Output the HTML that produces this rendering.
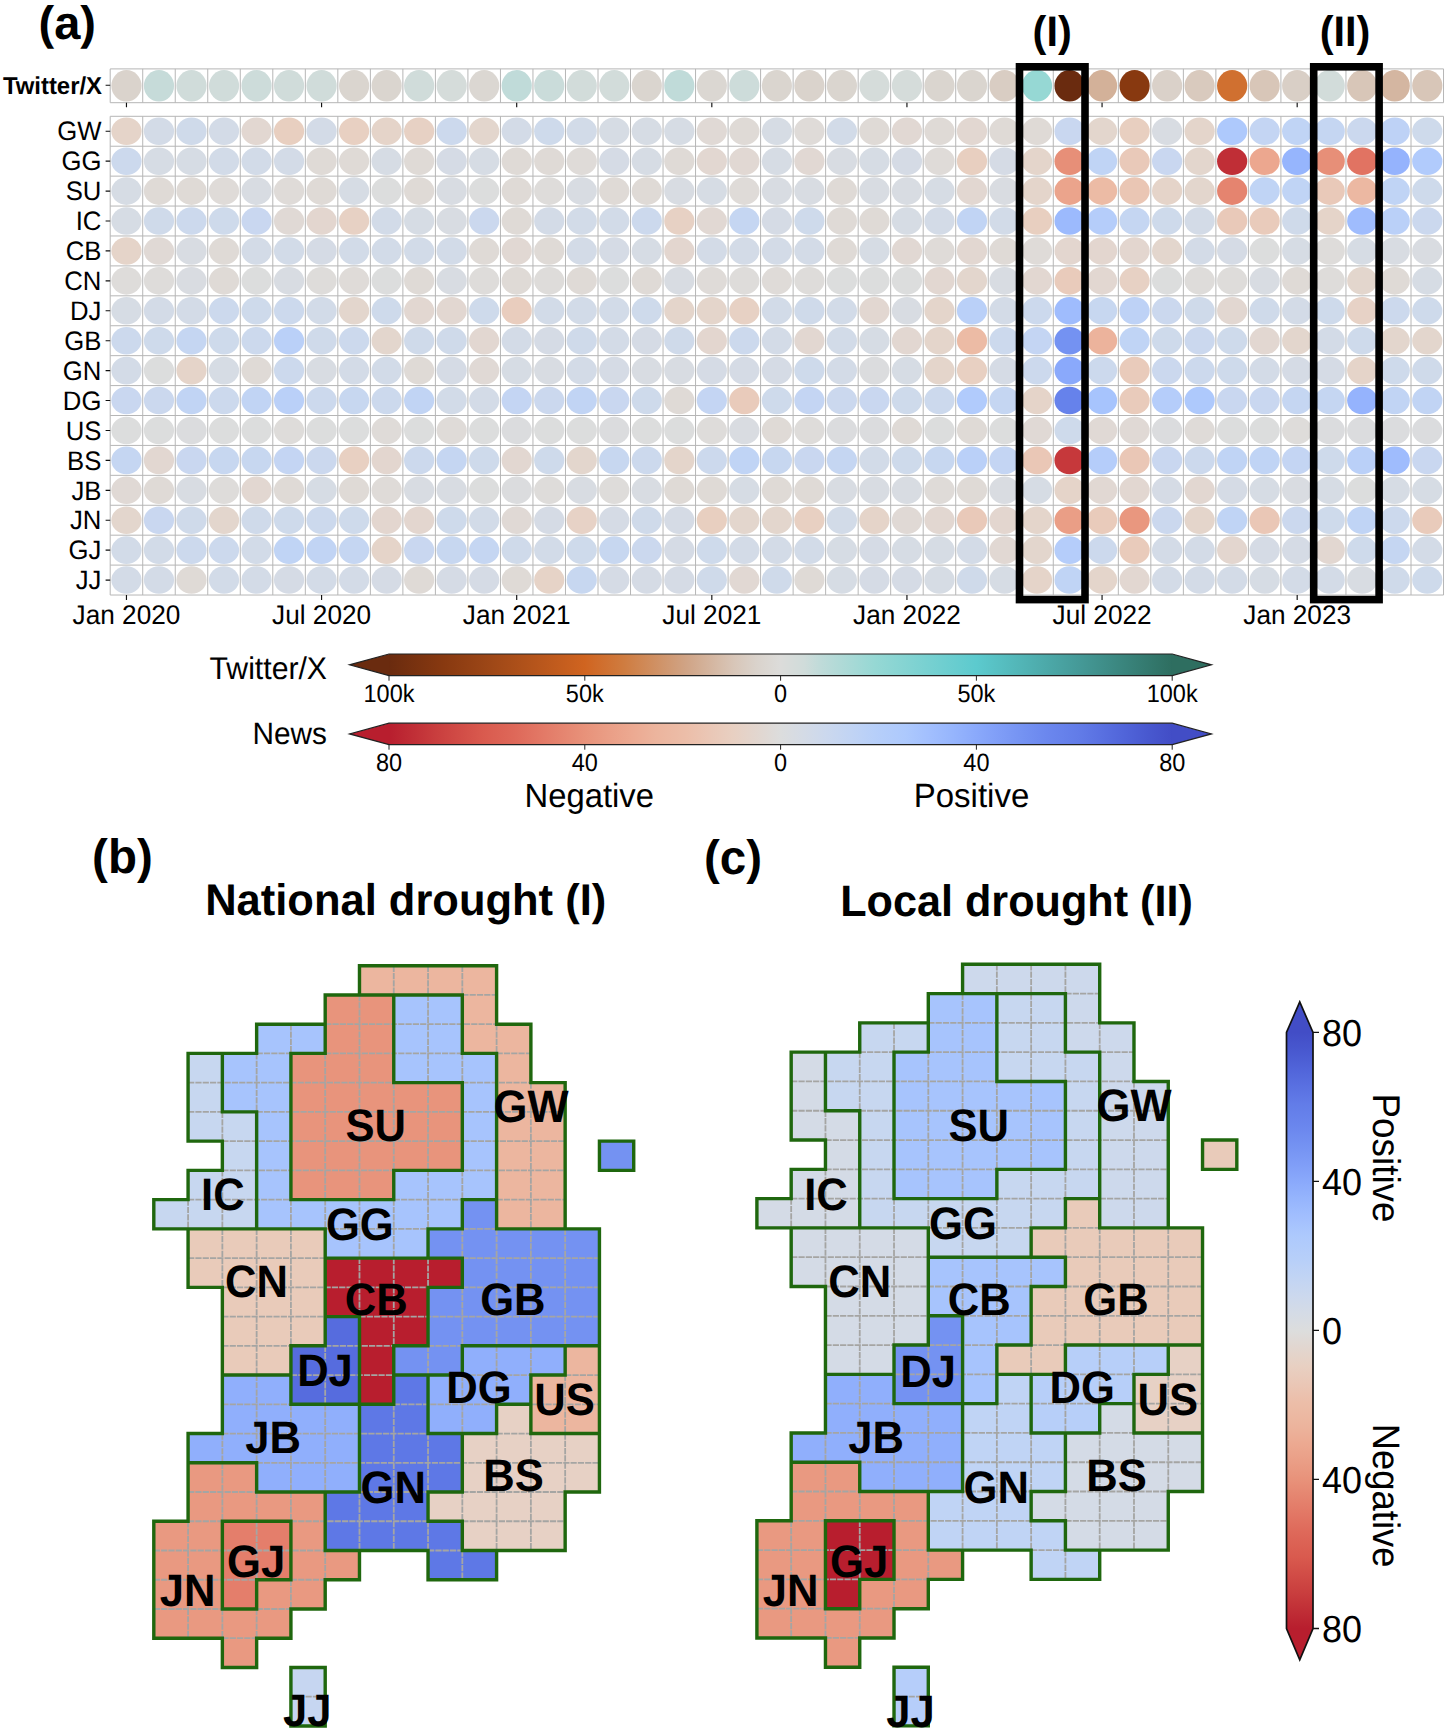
<!DOCTYPE html>
<html lang="en">
<head>
<meta charset="utf-8">
<title>Drought sentiment on Twitter/X and News</title>
<style>
html,body{margin:0;padding:0;background:#fff;}
body{width:1450px;height:1734px;overflow:hidden;}
svg{display:block;font-family:"Liberation Sans",sans-serif;fill:#000;}
</style>
</head>
<body>
<svg width="1450" height="1734" viewBox="0 0 1450 1734" text-rendering="geometricPrecision">
<rect width="1450" height="1734" fill="#fff"/>
<g id="panel-a">
<path d="M110.2 68.9V102.7M110.2 116.3V595.02M142.72 68.9V102.7M142.72 116.3V595.02M175.24 68.9V102.7M175.24 116.3V595.02M207.76 68.9V102.7M207.76 116.3V595.02M240.28 68.9V102.7M240.28 116.3V595.02M272.8 68.9V102.7M272.8 116.3V595.02M305.32 68.9V102.7M305.32 116.3V595.02M337.84 68.9V102.7M337.84 116.3V595.02M370.36 68.9V102.7M370.36 116.3V595.02M402.88 68.9V102.7M402.88 116.3V595.02M435.4 68.9V102.7M435.4 116.3V595.02M467.92 68.9V102.7M467.92 116.3V595.02M500.44 68.9V102.7M500.44 116.3V595.02M532.96 68.9V102.7M532.96 116.3V595.02M565.48 68.9V102.7M565.48 116.3V595.02M598 68.9V102.7M598 116.3V595.02M630.52 68.9V102.7M630.52 116.3V595.02M663.04 68.9V102.7M663.04 116.3V595.02M695.56 68.9V102.7M695.56 116.3V595.02M728.08 68.9V102.7M728.08 116.3V595.02M760.6 68.9V102.7M760.6 116.3V595.02M793.12 68.9V102.7M793.12 116.3V595.02M825.64 68.9V102.7M825.64 116.3V595.02M858.16 68.9V102.7M858.16 116.3V595.02M890.68 68.9V102.7M890.68 116.3V595.02M923.2 68.9V102.7M923.2 116.3V595.02M955.72 68.9V102.7M955.72 116.3V595.02M988.24 68.9V102.7M988.24 116.3V595.02M1020.76 68.9V102.7M1020.76 116.3V595.02M1053.28 68.9V102.7M1053.28 116.3V595.02M1085.8 68.9V102.7M1085.8 116.3V595.02M1118.32 68.9V102.7M1118.32 116.3V595.02M1150.84 68.9V102.7M1150.84 116.3V595.02M1183.36 68.9V102.7M1183.36 116.3V595.02M1215.88 68.9V102.7M1215.88 116.3V595.02M1248.4 68.9V102.7M1248.4 116.3V595.02M1280.92 68.9V102.7M1280.92 116.3V595.02M1313.44 68.9V102.7M1313.44 116.3V595.02M1345.96 68.9V102.7M1345.96 116.3V595.02M1378.48 68.9V102.7M1378.48 116.3V595.02M1411 68.9V102.7M1411 116.3V595.02M1443.52 68.9V102.7M1443.52 116.3V595.02M110.2 68.9H1443.52M110.2 102.7H1443.52M110.2 116.3H1443.52M110.2 146.22H1443.52M110.2 176.14H1443.52M110.2 206.06H1443.52M110.2 235.98H1443.52M110.2 265.9H1443.52M110.2 295.82H1443.52M110.2 325.74H1443.52M110.2 355.66H1443.52M110.2 385.58H1443.52M110.2 415.5H1443.52M110.2 445.42H1443.52M110.2 475.34H1443.52M110.2 505.26H1443.52M110.2 535.18H1443.52M110.2 565.1H1443.52M110.2 595.02H1443.52" fill="none" stroke="#b6b6b6" stroke-width="1"/>
<g id="twitter-row">
<ellipse cx="126.46" cy="85.8" rx="15.1" ry="15.8" fill="#dad3cc"/>
<ellipse cx="158.98" cy="85.8" rx="15.1" ry="15.8" fill="#c6dbd9"/>
<ellipse cx="191.5" cy="85.8" rx="15.1" ry="15.8" fill="#d0dcda"/>
<ellipse cx="224.02" cy="85.8" rx="15.1" ry="15.8" fill="#d0dcda"/>
<ellipse cx="256.54" cy="85.8" rx="15.1" ry="15.8" fill="#cddcda"/>
<ellipse cx="289.06" cy="85.8" rx="15.1" ry="15.8" fill="#d0dcda"/>
<ellipse cx="321.58" cy="85.8" rx="15.1" ry="15.8" fill="#d0dcda"/>
<ellipse cx="354.1" cy="85.8" rx="15.1" ry="15.8" fill="#dad5cf"/>
<ellipse cx="386.62" cy="85.8" rx="15.1" ry="15.8" fill="#dad5cf"/>
<ellipse cx="419.14" cy="85.8" rx="15.1" ry="15.8" fill="#d0dcda"/>
<ellipse cx="451.66" cy="85.8" rx="15.1" ry="15.8" fill="#d5dcda"/>
<ellipse cx="484.18" cy="85.8" rx="15.1" ry="15.8" fill="#dbd7d2"/>
<ellipse cx="516.7" cy="85.8" rx="15.1" ry="15.8" fill="#c0dbd9"/>
<ellipse cx="549.22" cy="85.8" rx="15.1" ry="15.8" fill="#cadcda"/>
<ellipse cx="581.74" cy="85.8" rx="15.1" ry="15.8" fill="#d2dcda"/>
<ellipse cx="614.26" cy="85.8" rx="15.1" ry="15.8" fill="#d2dcda"/>
<ellipse cx="646.78" cy="85.8" rx="15.1" ry="15.8" fill="#dad5cf"/>
<ellipse cx="679.3" cy="85.8" rx="15.1" ry="15.8" fill="#c0dbd9"/>
<ellipse cx="711.82" cy="85.8" rx="15.1" ry="15.8" fill="#dbd7d2"/>
<ellipse cx="744.34" cy="85.8" rx="15.1" ry="15.8" fill="#cddcda"/>
<ellipse cx="776.86" cy="85.8" rx="15.1" ry="15.8" fill="#dad5cf"/>
<ellipse cx="809.38" cy="85.8" rx="15.1" ry="15.8" fill="#dad3cc"/>
<ellipse cx="841.9" cy="85.8" rx="15.1" ry="15.8" fill="#dad5cf"/>
<ellipse cx="874.42" cy="85.8" rx="15.1" ry="15.8" fill="#d5dcda"/>
<ellipse cx="906.94" cy="85.8" rx="15.1" ry="15.8" fill="#d5dcda"/>
<ellipse cx="939.46" cy="85.8" rx="15.1" ry="15.8" fill="#dad5cf"/>
<ellipse cx="971.98" cy="85.8" rx="15.1" ry="15.8" fill="#dad5cf"/>
<ellipse cx="1004.5" cy="85.8" rx="15.1" ry="15.8" fill="#d9cdc3"/>
<ellipse cx="1037.02" cy="85.8" rx="15.1" ry="15.8" fill="#96d8d4"/>
<ellipse cx="1069.54" cy="85.8" rx="15.1" ry="15.8" fill="#6a2b0f"/>
<ellipse cx="1102.06" cy="85.8" rx="15.1" ry="15.8" fill="#d3b199"/>
<ellipse cx="1134.58" cy="85.8" rx="15.1" ry="15.8" fill="#883910"/>
<ellipse cx="1167.1" cy="85.8" rx="15.1" ry="15.8" fill="#dad1c9"/>
<ellipse cx="1199.62" cy="85.8" rx="15.1" ry="15.8" fill="#d9cabe"/>
<ellipse cx="1232.14" cy="85.8" rx="15.1" ry="15.8" fill="#d07030"/>
<ellipse cx="1264.66" cy="85.8" rx="15.1" ry="15.8" fill="#d8c6b8"/>
<ellipse cx="1297.18" cy="85.8" rx="15.1" ry="15.8" fill="#d9cfc6"/>
<ellipse cx="1329.7" cy="85.8" rx="15.1" ry="15.8" fill="#d2dcda"/>
<ellipse cx="1362.22" cy="85.8" rx="15.1" ry="15.8" fill="#d8c6b8"/>
<ellipse cx="1394.74" cy="85.8" rx="15.1" ry="15.8" fill="#d4b6a1"/>
<ellipse cx="1427.26" cy="85.8" rx="15.1" ry="15.8" fill="#d8c6b8"/>
</g>
<g id="news-GW">
<ellipse cx="126.46" cy="131.26" rx="15.1" ry="13.8" fill="#e5d4c9"/>
<ellipse cx="158.98" cy="131.26" rx="15.1" ry="13.8" fill="#d3dbe7"/>
<ellipse cx="191.5" cy="131.26" rx="15.1" ry="13.8" fill="#cfdaea"/>
<ellipse cx="224.02" cy="131.26" rx="15.1" ry="13.8" fill="#d3dbe7"/>
<ellipse cx="256.54" cy="131.26" rx="15.1" ry="13.8" fill="#e2d7d1"/>
<ellipse cx="289.06" cy="131.26" rx="15.1" ry="13.8" fill="#e8cfc0"/>
<ellipse cx="321.58" cy="131.26" rx="15.1" ry="13.8" fill="#d3dbe7"/>
<ellipse cx="354.1" cy="131.26" rx="15.1" ry="13.8" fill="#e8d0c2"/>
<ellipse cx="386.62" cy="131.26" rx="15.1" ry="13.8" fill="#e5d4c9"/>
<ellipse cx="419.14" cy="131.26" rx="15.1" ry="13.8" fill="#e7d1c4"/>
<ellipse cx="451.66" cy="131.26" rx="15.1" ry="13.8" fill="#ccd9ed"/>
<ellipse cx="484.18" cy="131.26" rx="15.1" ry="13.8" fill="#e3d6cd"/>
<ellipse cx="516.7" cy="131.26" rx="15.1" ry="13.8" fill="#d3dbe7"/>
<ellipse cx="549.22" cy="131.26" rx="15.1" ry="13.8" fill="#cedaeb"/>
<ellipse cx="581.74" cy="131.26" rx="15.1" ry="13.8" fill="#d2dbe8"/>
<ellipse cx="614.26" cy="131.26" rx="15.1" ry="13.8" fill="#d6dce4"/>
<ellipse cx="646.78" cy="131.26" rx="15.1" ry="13.8" fill="#d6dce4"/>
<ellipse cx="679.3" cy="131.26" rx="15.1" ry="13.8" fill="#d6dce4"/>
<ellipse cx="711.82" cy="131.26" rx="15.1" ry="13.8" fill="#e0d9d5"/>
<ellipse cx="744.34" cy="131.26" rx="15.1" ry="13.8" fill="#dfdad6"/>
<ellipse cx="776.86" cy="131.26" rx="15.1" ry="13.8" fill="#d6dce4"/>
<ellipse cx="809.38" cy="131.26" rx="15.1" ry="13.8" fill="#dfdbd8"/>
<ellipse cx="841.9" cy="131.26" rx="15.1" ry="13.8" fill="#d2dbe8"/>
<ellipse cx="874.42" cy="131.26" rx="15.1" ry="13.8" fill="#dfdad6"/>
<ellipse cx="906.94" cy="131.26" rx="15.1" ry="13.8" fill="#e1d8d3"/>
<ellipse cx="939.46" cy="131.26" rx="15.1" ry="13.8" fill="#dfdad6"/>
<ellipse cx="971.98" cy="131.26" rx="15.1" ry="13.8" fill="#e2d7d1"/>
<ellipse cx="1004.5" cy="131.26" rx="15.1" ry="13.8" fill="#dfdad6"/>
<ellipse cx="1037.02" cy="131.26" rx="15.1" ry="13.8" fill="#dfdad6"/>
<ellipse cx="1069.54" cy="131.26" rx="15.1" ry="13.8" fill="#c9d7f0"/>
<ellipse cx="1102.06" cy="131.26" rx="15.1" ry="13.8" fill="#e3d6cd"/>
<ellipse cx="1134.58" cy="131.26" rx="15.1" ry="13.8" fill="#e8cfc0"/>
<ellipse cx="1167.1" cy="131.26" rx="15.1" ry="13.8" fill="#d8dce2"/>
<ellipse cx="1199.62" cy="131.26" rx="15.1" ry="13.8" fill="#e4d5cb"/>
<ellipse cx="1232.14" cy="131.26" rx="15.1" ry="13.8" fill="#aec9fc"/>
<ellipse cx="1264.66" cy="131.26" rx="15.1" ry="13.8" fill="#c4d5f3"/>
<ellipse cx="1297.18" cy="131.26" rx="15.1" ry="13.8" fill="#c0d4f5"/>
<ellipse cx="1329.7" cy="131.26" rx="15.1" ry="13.8" fill="#c5d6f2"/>
<ellipse cx="1362.22" cy="131.26" rx="15.1" ry="13.8" fill="#cbd8ee"/>
<ellipse cx="1394.74" cy="131.26" rx="15.1" ry="13.8" fill="#bed2f6"/>
<ellipse cx="1427.26" cy="131.26" rx="15.1" ry="13.8" fill="#cedaeb"/>
</g>
<g id="news-GG">
<ellipse cx="126.46" cy="161.18" rx="15.1" ry="13.8" fill="#ccd9ed"/>
<ellipse cx="158.98" cy="161.18" rx="15.1" ry="13.8" fill="#d6dce4"/>
<ellipse cx="191.5" cy="161.18" rx="15.1" ry="13.8" fill="#d6dce4"/>
<ellipse cx="224.02" cy="161.18" rx="15.1" ry="13.8" fill="#d2dbe8"/>
<ellipse cx="256.54" cy="161.18" rx="15.1" ry="13.8" fill="#d2dbe8"/>
<ellipse cx="289.06" cy="161.18" rx="15.1" ry="13.8" fill="#d3dbe7"/>
<ellipse cx="321.58" cy="161.18" rx="15.1" ry="13.8" fill="#dfdad6"/>
<ellipse cx="354.1" cy="161.18" rx="15.1" ry="13.8" fill="#dfdad6"/>
<ellipse cx="386.62" cy="161.18" rx="15.1" ry="13.8" fill="#d6dce4"/>
<ellipse cx="419.14" cy="161.18" rx="15.1" ry="13.8" fill="#dfdad6"/>
<ellipse cx="451.66" cy="161.18" rx="15.1" ry="13.8" fill="#d5dbe5"/>
<ellipse cx="484.18" cy="161.18" rx="15.1" ry="13.8" fill="#d6dce4"/>
<ellipse cx="516.7" cy="161.18" rx="15.1" ry="13.8" fill="#dfdad6"/>
<ellipse cx="549.22" cy="161.18" rx="15.1" ry="13.8" fill="#dfdad6"/>
<ellipse cx="581.74" cy="161.18" rx="15.1" ry="13.8" fill="#dfdbd8"/>
<ellipse cx="614.26" cy="161.18" rx="15.1" ry="13.8" fill="#d5dbe5"/>
<ellipse cx="646.78" cy="161.18" rx="15.1" ry="13.8" fill="#d6dce4"/>
<ellipse cx="679.3" cy="161.18" rx="15.1" ry="13.8" fill="#dfdad6"/>
<ellipse cx="711.82" cy="161.18" rx="15.1" ry="13.8" fill="#e2d7d1"/>
<ellipse cx="744.34" cy="161.18" rx="15.1" ry="13.8" fill="#e1d8d3"/>
<ellipse cx="776.86" cy="161.18" rx="15.1" ry="13.8" fill="#d6dce4"/>
<ellipse cx="809.38" cy="161.18" rx="15.1" ry="13.8" fill="#e1d8d3"/>
<ellipse cx="841.9" cy="161.18" rx="15.1" ry="13.8" fill="#d8dce2"/>
<ellipse cx="874.42" cy="161.18" rx="15.1" ry="13.8" fill="#d6dce4"/>
<ellipse cx="906.94" cy="161.18" rx="15.1" ry="13.8" fill="#d5dbe5"/>
<ellipse cx="939.46" cy="161.18" rx="15.1" ry="13.8" fill="#dfdbd8"/>
<ellipse cx="971.98" cy="161.18" rx="15.1" ry="13.8" fill="#e8cfc0"/>
<ellipse cx="1004.5" cy="161.18" rx="15.1" ry="13.8" fill="#d5dbe5"/>
<ellipse cx="1037.02" cy="161.18" rx="15.1" ry="13.8" fill="#e4d5cb"/>
<ellipse cx="1069.54" cy="161.18" rx="15.1" ry="13.8" fill="#e78f78"/>
<ellipse cx="1102.06" cy="161.18" rx="15.1" ry="13.8" fill="#c0d4f5"/>
<ellipse cx="1134.58" cy="161.18" rx="15.1" ry="13.8" fill="#e9c9b9"/>
<ellipse cx="1167.1" cy="161.18" rx="15.1" ry="13.8" fill="#c9d7f0"/>
<ellipse cx="1199.62" cy="161.18" rx="15.1" ry="13.8" fill="#e3d6cd"/>
<ellipse cx="1232.14" cy="161.18" rx="15.1" ry="13.8" fill="#c02e36"/>
<ellipse cx="1264.66" cy="161.18" rx="15.1" ry="13.8" fill="#eca78f"/>
<ellipse cx="1297.18" cy="161.18" rx="15.1" ry="13.8" fill="#96b5fd"/>
<ellipse cx="1329.7" cy="161.18" rx="15.1" ry="13.8" fill="#e78f78"/>
<ellipse cx="1362.22" cy="161.18" rx="15.1" ry="13.8" fill="#e17362"/>
<ellipse cx="1394.74" cy="161.18" rx="15.1" ry="13.8" fill="#95b3fd"/>
<ellipse cx="1427.26" cy="161.18" rx="15.1" ry="13.8" fill="#b1cbfc"/>
</g>
<g id="news-SU">
<ellipse cx="126.46" cy="191.1" rx="15.1" ry="13.8" fill="#d6dce4"/>
<ellipse cx="158.98" cy="191.1" rx="15.1" ry="13.8" fill="#dfdad6"/>
<ellipse cx="191.5" cy="191.1" rx="15.1" ry="13.8" fill="#dfdad6"/>
<ellipse cx="224.02" cy="191.1" rx="15.1" ry="13.8" fill="#dfdbd8"/>
<ellipse cx="256.54" cy="191.1" rx="15.1" ry="13.8" fill="#d8dce2"/>
<ellipse cx="289.06" cy="191.1" rx="15.1" ry="13.8" fill="#dfdbd8"/>
<ellipse cx="321.58" cy="191.1" rx="15.1" ry="13.8" fill="#dfdad6"/>
<ellipse cx="354.1" cy="191.1" rx="15.1" ry="13.8" fill="#d6dce4"/>
<ellipse cx="386.62" cy="191.1" rx="15.1" ry="13.8" fill="#dcdddd"/>
<ellipse cx="419.14" cy="191.1" rx="15.1" ry="13.8" fill="#dfdad6"/>
<ellipse cx="451.66" cy="191.1" rx="15.1" ry="13.8" fill="#d8dce2"/>
<ellipse cx="484.18" cy="191.1" rx="15.1" ry="13.8" fill="#dcdddd"/>
<ellipse cx="516.7" cy="191.1" rx="15.1" ry="13.8" fill="#dfdad6"/>
<ellipse cx="549.22" cy="191.1" rx="15.1" ry="13.8" fill="#dedcda"/>
<ellipse cx="581.74" cy="191.1" rx="15.1" ry="13.8" fill="#d8dce2"/>
<ellipse cx="614.26" cy="191.1" rx="15.1" ry="13.8" fill="#dfdad6"/>
<ellipse cx="646.78" cy="191.1" rx="15.1" ry="13.8" fill="#dfdad6"/>
<ellipse cx="679.3" cy="191.1" rx="15.1" ry="13.8" fill="#d8dce2"/>
<ellipse cx="711.82" cy="191.1" rx="15.1" ry="13.8" fill="#d6dce4"/>
<ellipse cx="744.34" cy="191.1" rx="15.1" ry="13.8" fill="#dfdbd8"/>
<ellipse cx="776.86" cy="191.1" rx="15.1" ry="13.8" fill="#d8dce2"/>
<ellipse cx="809.38" cy="191.1" rx="15.1" ry="13.8" fill="#d8dce2"/>
<ellipse cx="841.9" cy="191.1" rx="15.1" ry="13.8" fill="#dfdad6"/>
<ellipse cx="874.42" cy="191.1" rx="15.1" ry="13.8" fill="#d8dce2"/>
<ellipse cx="906.94" cy="191.1" rx="15.1" ry="13.8" fill="#d8dce2"/>
<ellipse cx="939.46" cy="191.1" rx="15.1" ry="13.8" fill="#d6dce4"/>
<ellipse cx="971.98" cy="191.1" rx="15.1" ry="13.8" fill="#e2d7d1"/>
<ellipse cx="1004.5" cy="191.1" rx="15.1" ry="13.8" fill="#d9dce1"/>
<ellipse cx="1037.02" cy="191.1" rx="15.1" ry="13.8" fill="#e4d5cb"/>
<ellipse cx="1069.54" cy="191.1" rx="15.1" ry="13.8" fill="#eba48c"/>
<ellipse cx="1102.06" cy="191.1" rx="15.1" ry="13.8" fill="#ecbba5"/>
<ellipse cx="1134.58" cy="191.1" rx="15.1" ry="13.8" fill="#eac6b4"/>
<ellipse cx="1167.1" cy="191.1" rx="15.1" ry="13.8" fill="#e5d4c9"/>
<ellipse cx="1199.62" cy="191.1" rx="15.1" ry="13.8" fill="#e3d6cd"/>
<ellipse cx="1232.14" cy="191.1" rx="15.1" ry="13.8" fill="#e5846f"/>
<ellipse cx="1264.66" cy="191.1" rx="15.1" ry="13.8" fill="#c0d4f5"/>
<ellipse cx="1297.18" cy="191.1" rx="15.1" ry="13.8" fill="#c0d4f5"/>
<ellipse cx="1329.7" cy="191.1" rx="15.1" ry="13.8" fill="#e9c9b9"/>
<ellipse cx="1362.22" cy="191.1" rx="15.1" ry="13.8" fill="#ecb8a2"/>
<ellipse cx="1394.74" cy="191.1" rx="15.1" ry="13.8" fill="#c0d4f5"/>
<ellipse cx="1427.26" cy="191.1" rx="15.1" ry="13.8" fill="#cedaeb"/>
</g>
<g id="news-IC">
<ellipse cx="126.46" cy="221.02" rx="15.1" ry="13.8" fill="#d6dce4"/>
<ellipse cx="158.98" cy="221.02" rx="15.1" ry="13.8" fill="#cfdaea"/>
<ellipse cx="191.5" cy="221.02" rx="15.1" ry="13.8" fill="#ccd9ed"/>
<ellipse cx="224.02" cy="221.02" rx="15.1" ry="13.8" fill="#cedaeb"/>
<ellipse cx="256.54" cy="221.02" rx="15.1" ry="13.8" fill="#c9d7f0"/>
<ellipse cx="289.06" cy="221.02" rx="15.1" ry="13.8" fill="#e0d9d5"/>
<ellipse cx="321.58" cy="221.02" rx="15.1" ry="13.8" fill="#e3d6cf"/>
<ellipse cx="354.1" cy="221.02" rx="15.1" ry="13.8" fill="#e7d1c4"/>
<ellipse cx="386.62" cy="221.02" rx="15.1" ry="13.8" fill="#d2dbe8"/>
<ellipse cx="419.14" cy="221.02" rx="15.1" ry="13.8" fill="#d6dce4"/>
<ellipse cx="451.66" cy="221.02" rx="15.1" ry="13.8" fill="#d8dce2"/>
<ellipse cx="484.18" cy="221.02" rx="15.1" ry="13.8" fill="#cbd8ee"/>
<ellipse cx="516.7" cy="221.02" rx="15.1" ry="13.8" fill="#dfdad6"/>
<ellipse cx="549.22" cy="221.02" rx="15.1" ry="13.8" fill="#d3dbe7"/>
<ellipse cx="581.74" cy="221.02" rx="15.1" ry="13.8" fill="#d2dbe8"/>
<ellipse cx="614.26" cy="221.02" rx="15.1" ry="13.8" fill="#d2dbe8"/>
<ellipse cx="646.78" cy="221.02" rx="15.1" ry="13.8" fill="#ccd9ed"/>
<ellipse cx="679.3" cy="221.02" rx="15.1" ry="13.8" fill="#e7d1c4"/>
<ellipse cx="711.82" cy="221.02" rx="15.1" ry="13.8" fill="#e1d8d3"/>
<ellipse cx="744.34" cy="221.02" rx="15.1" ry="13.8" fill="#c5d6f2"/>
<ellipse cx="776.86" cy="221.02" rx="15.1" ry="13.8" fill="#d5dbe5"/>
<ellipse cx="809.38" cy="221.02" rx="15.1" ry="13.8" fill="#cedaeb"/>
<ellipse cx="841.9" cy="221.02" rx="15.1" ry="13.8" fill="#dfdad6"/>
<ellipse cx="874.42" cy="221.02" rx="15.1" ry="13.8" fill="#dfdad6"/>
<ellipse cx="906.94" cy="221.02" rx="15.1" ry="13.8" fill="#d6dce4"/>
<ellipse cx="939.46" cy="221.02" rx="15.1" ry="13.8" fill="#d3dbe7"/>
<ellipse cx="971.98" cy="221.02" rx="15.1" ry="13.8" fill="#c1d4f4"/>
<ellipse cx="1004.5" cy="221.02" rx="15.1" ry="13.8" fill="#d2dbe8"/>
<ellipse cx="1037.02" cy="221.02" rx="15.1" ry="13.8" fill="#e8cfc0"/>
<ellipse cx="1069.54" cy="221.02" rx="15.1" ry="13.8" fill="#9cbafd"/>
<ellipse cx="1102.06" cy="221.02" rx="15.1" ry="13.8" fill="#b5cdfa"/>
<ellipse cx="1134.58" cy="221.02" rx="15.1" ry="13.8" fill="#c5d6f2"/>
<ellipse cx="1167.1" cy="221.02" rx="15.1" ry="13.8" fill="#cedaeb"/>
<ellipse cx="1199.62" cy="221.02" rx="15.1" ry="13.8" fill="#d3dbe7"/>
<ellipse cx="1232.14" cy="221.02" rx="15.1" ry="13.8" fill="#e9c9b9"/>
<ellipse cx="1264.66" cy="221.02" rx="15.1" ry="13.8" fill="#e9cbbb"/>
<ellipse cx="1297.18" cy="221.02" rx="15.1" ry="13.8" fill="#cfdaea"/>
<ellipse cx="1329.7" cy="221.02" rx="15.1" ry="13.8" fill="#e5d4c9"/>
<ellipse cx="1362.22" cy="221.02" rx="15.1" ry="13.8" fill="#9fbcfd"/>
<ellipse cx="1394.74" cy="221.02" rx="15.1" ry="13.8" fill="#bad0f8"/>
<ellipse cx="1427.26" cy="221.02" rx="15.1" ry="13.8" fill="#cbd8ee"/>
</g>
<g id="news-CB">
<ellipse cx="126.46" cy="250.94" rx="15.1" ry="13.8" fill="#e5d4c9"/>
<ellipse cx="158.98" cy="250.94" rx="15.1" ry="13.8" fill="#e0d9d5"/>
<ellipse cx="191.5" cy="250.94" rx="15.1" ry="13.8" fill="#d8dce2"/>
<ellipse cx="224.02" cy="250.94" rx="15.1" ry="13.8" fill="#dfdad6"/>
<ellipse cx="256.54" cy="250.94" rx="15.1" ry="13.8" fill="#d3dbe7"/>
<ellipse cx="289.06" cy="250.94" rx="15.1" ry="13.8" fill="#d2dbe8"/>
<ellipse cx="321.58" cy="250.94" rx="15.1" ry="13.8" fill="#d5dbe5"/>
<ellipse cx="354.1" cy="250.94" rx="15.1" ry="13.8" fill="#d2dbe8"/>
<ellipse cx="386.62" cy="250.94" rx="15.1" ry="13.8" fill="#d2dbe8"/>
<ellipse cx="419.14" cy="250.94" rx="15.1" ry="13.8" fill="#d2dbe8"/>
<ellipse cx="451.66" cy="250.94" rx="15.1" ry="13.8" fill="#d2dbe8"/>
<ellipse cx="484.18" cy="250.94" rx="15.1" ry="13.8" fill="#dfdad6"/>
<ellipse cx="516.7" cy="250.94" rx="15.1" ry="13.8" fill="#e1d8d3"/>
<ellipse cx="549.22" cy="250.94" rx="15.1" ry="13.8" fill="#dfdad6"/>
<ellipse cx="581.74" cy="250.94" rx="15.1" ry="13.8" fill="#d3dbe7"/>
<ellipse cx="614.26" cy="250.94" rx="15.1" ry="13.8" fill="#d5dbe5"/>
<ellipse cx="646.78" cy="250.94" rx="15.1" ry="13.8" fill="#d6dce4"/>
<ellipse cx="679.3" cy="250.94" rx="15.1" ry="13.8" fill="#e3d6cf"/>
<ellipse cx="711.82" cy="250.94" rx="15.1" ry="13.8" fill="#d3dbe7"/>
<ellipse cx="744.34" cy="250.94" rx="15.1" ry="13.8" fill="#d3dbe7"/>
<ellipse cx="776.86" cy="250.94" rx="15.1" ry="13.8" fill="#d3dbe7"/>
<ellipse cx="809.38" cy="250.94" rx="15.1" ry="13.8" fill="#d3dbe7"/>
<ellipse cx="841.9" cy="250.94" rx="15.1" ry="13.8" fill="#dfdad6"/>
<ellipse cx="874.42" cy="250.94" rx="15.1" ry="13.8" fill="#d6dce4"/>
<ellipse cx="906.94" cy="250.94" rx="15.1" ry="13.8" fill="#e1d8d3"/>
<ellipse cx="939.46" cy="250.94" rx="15.1" ry="13.8" fill="#dfdbd8"/>
<ellipse cx="971.98" cy="250.94" rx="15.1" ry="13.8" fill="#e2d7d1"/>
<ellipse cx="1004.5" cy="250.94" rx="15.1" ry="13.8" fill="#dfdad6"/>
<ellipse cx="1037.02" cy="250.94" rx="15.1" ry="13.8" fill="#dfdbd8"/>
<ellipse cx="1069.54" cy="250.94" rx="15.1" ry="13.8" fill="#e3d6cf"/>
<ellipse cx="1102.06" cy="250.94" rx="15.1" ry="13.8" fill="#e3d6cf"/>
<ellipse cx="1134.58" cy="250.94" rx="15.1" ry="13.8" fill="#e3d6cf"/>
<ellipse cx="1167.1" cy="250.94" rx="15.1" ry="13.8" fill="#e3d6cd"/>
<ellipse cx="1199.62" cy="250.94" rx="15.1" ry="13.8" fill="#d3dbe7"/>
<ellipse cx="1232.14" cy="250.94" rx="15.1" ry="13.8" fill="#d5dbe5"/>
<ellipse cx="1264.66" cy="250.94" rx="15.1" ry="13.8" fill="#dcdddd"/>
<ellipse cx="1297.18" cy="250.94" rx="15.1" ry="13.8" fill="#d6dce4"/>
<ellipse cx="1329.7" cy="250.94" rx="15.1" ry="13.8" fill="#dedcda"/>
<ellipse cx="1362.22" cy="250.94" rx="15.1" ry="13.8" fill="#d6dce4"/>
<ellipse cx="1394.74" cy="250.94" rx="15.1" ry="13.8" fill="#d8dce2"/>
<ellipse cx="1427.26" cy="250.94" rx="15.1" ry="13.8" fill="#d9dce1"/>
</g>
<g id="news-CN">
<ellipse cx="126.46" cy="280.86" rx="15.1" ry="13.8" fill="#dedcda"/>
<ellipse cx="158.98" cy="280.86" rx="15.1" ry="13.8" fill="#dedcda"/>
<ellipse cx="191.5" cy="280.86" rx="15.1" ry="13.8" fill="#d9dce1"/>
<ellipse cx="224.02" cy="280.86" rx="15.1" ry="13.8" fill="#dfdad6"/>
<ellipse cx="256.54" cy="280.86" rx="15.1" ry="13.8" fill="#dcdddd"/>
<ellipse cx="289.06" cy="280.86" rx="15.1" ry="13.8" fill="#d8dce2"/>
<ellipse cx="321.58" cy="280.86" rx="15.1" ry="13.8" fill="#dedcda"/>
<ellipse cx="354.1" cy="280.86" rx="15.1" ry="13.8" fill="#dfdbd8"/>
<ellipse cx="386.62" cy="280.86" rx="15.1" ry="13.8" fill="#dcdddd"/>
<ellipse cx="419.14" cy="280.86" rx="15.1" ry="13.8" fill="#dfdad6"/>
<ellipse cx="451.66" cy="280.86" rx="15.1" ry="13.8" fill="#d8dce2"/>
<ellipse cx="484.18" cy="280.86" rx="15.1" ry="13.8" fill="#dedcda"/>
<ellipse cx="516.7" cy="280.86" rx="15.1" ry="13.8" fill="#dfdad6"/>
<ellipse cx="549.22" cy="280.86" rx="15.1" ry="13.8" fill="#dedcda"/>
<ellipse cx="581.74" cy="280.86" rx="15.1" ry="13.8" fill="#dfdad6"/>
<ellipse cx="614.26" cy="280.86" rx="15.1" ry="13.8" fill="#dcdddd"/>
<ellipse cx="646.78" cy="280.86" rx="15.1" ry="13.8" fill="#dfdad6"/>
<ellipse cx="679.3" cy="280.86" rx="15.1" ry="13.8" fill="#d8dce2"/>
<ellipse cx="711.82" cy="280.86" rx="15.1" ry="13.8" fill="#dfdbd8"/>
<ellipse cx="744.34" cy="280.86" rx="15.1" ry="13.8" fill="#dedcda"/>
<ellipse cx="776.86" cy="280.86" rx="15.1" ry="13.8" fill="#dfdbd8"/>
<ellipse cx="809.38" cy="280.86" rx="15.1" ry="13.8" fill="#dedcda"/>
<ellipse cx="841.9" cy="280.86" rx="15.1" ry="13.8" fill="#dcdddd"/>
<ellipse cx="874.42" cy="280.86" rx="15.1" ry="13.8" fill="#dcdddd"/>
<ellipse cx="906.94" cy="280.86" rx="15.1" ry="13.8" fill="#dcdddd"/>
<ellipse cx="939.46" cy="280.86" rx="15.1" ry="13.8" fill="#e2d7d1"/>
<ellipse cx="971.98" cy="280.86" rx="15.1" ry="13.8" fill="#e3d6cd"/>
<ellipse cx="1004.5" cy="280.86" rx="15.1" ry="13.8" fill="#d8dce2"/>
<ellipse cx="1037.02" cy="280.86" rx="15.1" ry="13.8" fill="#e2d7d1"/>
<ellipse cx="1069.54" cy="280.86" rx="15.1" ry="13.8" fill="#e9cbbb"/>
<ellipse cx="1102.06" cy="280.86" rx="15.1" ry="13.8" fill="#e2d7d1"/>
<ellipse cx="1134.58" cy="280.86" rx="15.1" ry="13.8" fill="#e7d1c4"/>
<ellipse cx="1167.1" cy="280.86" rx="15.1" ry="13.8" fill="#dcdddd"/>
<ellipse cx="1199.62" cy="280.86" rx="15.1" ry="13.8" fill="#dedcda"/>
<ellipse cx="1232.14" cy="280.86" rx="15.1" ry="13.8" fill="#dedcda"/>
<ellipse cx="1264.66" cy="280.86" rx="15.1" ry="13.8" fill="#d8dce2"/>
<ellipse cx="1297.18" cy="280.86" rx="15.1" ry="13.8" fill="#dfdad6"/>
<ellipse cx="1329.7" cy="280.86" rx="15.1" ry="13.8" fill="#dedcda"/>
<ellipse cx="1362.22" cy="280.86" rx="15.1" ry="13.8" fill="#e3d6cd"/>
<ellipse cx="1394.74" cy="280.86" rx="15.1" ry="13.8" fill="#dfdad6"/>
<ellipse cx="1427.26" cy="280.86" rx="15.1" ry="13.8" fill="#d6dce4"/>
</g>
<g id="news-DJ">
<ellipse cx="126.46" cy="310.78" rx="15.1" ry="13.8" fill="#d6dce4"/>
<ellipse cx="158.98" cy="310.78" rx="15.1" ry="13.8" fill="#d3dbe7"/>
<ellipse cx="191.5" cy="310.78" rx="15.1" ry="13.8" fill="#d3dbe7"/>
<ellipse cx="224.02" cy="310.78" rx="15.1" ry="13.8" fill="#ccd9ed"/>
<ellipse cx="256.54" cy="310.78" rx="15.1" ry="13.8" fill="#cedaeb"/>
<ellipse cx="289.06" cy="310.78" rx="15.1" ry="13.8" fill="#ccd9ed"/>
<ellipse cx="321.58" cy="310.78" rx="15.1" ry="13.8" fill="#d2dbe8"/>
<ellipse cx="354.1" cy="310.78" rx="15.1" ry="13.8" fill="#e3d6cd"/>
<ellipse cx="386.62" cy="310.78" rx="15.1" ry="13.8" fill="#cedaeb"/>
<ellipse cx="419.14" cy="310.78" rx="15.1" ry="13.8" fill="#e2d7d1"/>
<ellipse cx="451.66" cy="310.78" rx="15.1" ry="13.8" fill="#e2d7d1"/>
<ellipse cx="484.18" cy="310.78" rx="15.1" ry="13.8" fill="#cedaeb"/>
<ellipse cx="516.7" cy="310.78" rx="15.1" ry="13.8" fill="#e9cdbe"/>
<ellipse cx="549.22" cy="310.78" rx="15.1" ry="13.8" fill="#d2dbe8"/>
<ellipse cx="581.74" cy="310.78" rx="15.1" ry="13.8" fill="#d2dbe8"/>
<ellipse cx="614.26" cy="310.78" rx="15.1" ry="13.8" fill="#d2dbe8"/>
<ellipse cx="646.78" cy="310.78" rx="15.1" ry="13.8" fill="#cedaeb"/>
<ellipse cx="679.3" cy="310.78" rx="15.1" ry="13.8" fill="#e4d5cb"/>
<ellipse cx="711.82" cy="310.78" rx="15.1" ry="13.8" fill="#e4d5cb"/>
<ellipse cx="744.34" cy="310.78" rx="15.1" ry="13.8" fill="#e7d1c4"/>
<ellipse cx="776.86" cy="310.78" rx="15.1" ry="13.8" fill="#d2dbe8"/>
<ellipse cx="809.38" cy="310.78" rx="15.1" ry="13.8" fill="#cfdaea"/>
<ellipse cx="841.9" cy="310.78" rx="15.1" ry="13.8" fill="#d2dbe8"/>
<ellipse cx="874.42" cy="310.78" rx="15.1" ry="13.8" fill="#e2d7d1"/>
<ellipse cx="906.94" cy="310.78" rx="15.1" ry="13.8" fill="#d8dce2"/>
<ellipse cx="939.46" cy="310.78" rx="15.1" ry="13.8" fill="#e4d5cb"/>
<ellipse cx="971.98" cy="310.78" rx="15.1" ry="13.8" fill="#bad0f8"/>
<ellipse cx="1004.5" cy="310.78" rx="15.1" ry="13.8" fill="#d3dbe7"/>
<ellipse cx="1037.02" cy="310.78" rx="15.1" ry="13.8" fill="#ccd9ed"/>
<ellipse cx="1069.54" cy="310.78" rx="15.1" ry="13.8" fill="#9fbcfd"/>
<ellipse cx="1102.06" cy="310.78" rx="15.1" ry="13.8" fill="#c7d7f0"/>
<ellipse cx="1134.58" cy="310.78" rx="15.1" ry="13.8" fill="#bed2f6"/>
<ellipse cx="1167.1" cy="310.78" rx="15.1" ry="13.8" fill="#cbd8ee"/>
<ellipse cx="1199.62" cy="310.78" rx="15.1" ry="13.8" fill="#cfdaea"/>
<ellipse cx="1232.14" cy="310.78" rx="15.1" ry="13.8" fill="#e2d7d1"/>
<ellipse cx="1264.66" cy="310.78" rx="15.1" ry="13.8" fill="#cfdaea"/>
<ellipse cx="1297.18" cy="310.78" rx="15.1" ry="13.8" fill="#d3dbe7"/>
<ellipse cx="1329.7" cy="310.78" rx="15.1" ry="13.8" fill="#cedaeb"/>
<ellipse cx="1362.22" cy="310.78" rx="15.1" ry="13.8" fill="#e7d2c6"/>
<ellipse cx="1394.74" cy="310.78" rx="15.1" ry="13.8" fill="#ccd9ed"/>
<ellipse cx="1427.26" cy="310.78" rx="15.1" ry="13.8" fill="#cedaeb"/>
</g>
<g id="news-GB">
<ellipse cx="126.46" cy="340.7" rx="15.1" ry="13.8" fill="#ccd9ed"/>
<ellipse cx="158.98" cy="340.7" rx="15.1" ry="13.8" fill="#cedaeb"/>
<ellipse cx="191.5" cy="340.7" rx="15.1" ry="13.8" fill="#c5d6f2"/>
<ellipse cx="224.02" cy="340.7" rx="15.1" ry="13.8" fill="#cedaeb"/>
<ellipse cx="256.54" cy="340.7" rx="15.1" ry="13.8" fill="#ccd9ed"/>
<ellipse cx="289.06" cy="340.7" rx="15.1" ry="13.8" fill="#bad0f8"/>
<ellipse cx="321.58" cy="340.7" rx="15.1" ry="13.8" fill="#cfdaea"/>
<ellipse cx="354.1" cy="340.7" rx="15.1" ry="13.8" fill="#ccd9ed"/>
<ellipse cx="386.62" cy="340.7" rx="15.1" ry="13.8" fill="#e3d6cd"/>
<ellipse cx="419.14" cy="340.7" rx="15.1" ry="13.8" fill="#cfdaea"/>
<ellipse cx="451.66" cy="340.7" rx="15.1" ry="13.8" fill="#cfdaea"/>
<ellipse cx="484.18" cy="340.7" rx="15.1" ry="13.8" fill="#e2d7d1"/>
<ellipse cx="516.7" cy="340.7" rx="15.1" ry="13.8" fill="#d3dbe7"/>
<ellipse cx="549.22" cy="340.7" rx="15.1" ry="13.8" fill="#d5dbe5"/>
<ellipse cx="581.74" cy="340.7" rx="15.1" ry="13.8" fill="#cfdaea"/>
<ellipse cx="614.26" cy="340.7" rx="15.1" ry="13.8" fill="#d3dbe7"/>
<ellipse cx="646.78" cy="340.7" rx="15.1" ry="13.8" fill="#d5dbe5"/>
<ellipse cx="679.3" cy="340.7" rx="15.1" ry="13.8" fill="#cfdaea"/>
<ellipse cx="711.82" cy="340.7" rx="15.1" ry="13.8" fill="#e3d6cf"/>
<ellipse cx="744.34" cy="340.7" rx="15.1" ry="13.8" fill="#ccd9ed"/>
<ellipse cx="776.86" cy="340.7" rx="15.1" ry="13.8" fill="#d3dbe7"/>
<ellipse cx="809.38" cy="340.7" rx="15.1" ry="13.8" fill="#e2d7d1"/>
<ellipse cx="841.9" cy="340.7" rx="15.1" ry="13.8" fill="#d2dbe8"/>
<ellipse cx="874.42" cy="340.7" rx="15.1" ry="13.8" fill="#d6dce4"/>
<ellipse cx="906.94" cy="340.7" rx="15.1" ry="13.8" fill="#e2d7d1"/>
<ellipse cx="939.46" cy="340.7" rx="15.1" ry="13.8" fill="#e4d5cb"/>
<ellipse cx="971.98" cy="340.7" rx="15.1" ry="13.8" fill="#ecbba5"/>
<ellipse cx="1004.5" cy="340.7" rx="15.1" ry="13.8" fill="#ccd9ed"/>
<ellipse cx="1037.02" cy="340.7" rx="15.1" ry="13.8" fill="#c4d5f3"/>
<ellipse cx="1069.54" cy="340.7" rx="15.1" ry="13.8" fill="#7492f2"/>
<ellipse cx="1102.06" cy="340.7" rx="15.1" ry="13.8" fill="#ecb39c"/>
<ellipse cx="1134.58" cy="340.7" rx="15.1" ry="13.8" fill="#c0d4f5"/>
<ellipse cx="1167.1" cy="340.7" rx="15.1" ry="13.8" fill="#cedaeb"/>
<ellipse cx="1199.62" cy="340.7" rx="15.1" ry="13.8" fill="#cbd8ee"/>
<ellipse cx="1232.14" cy="340.7" rx="15.1" ry="13.8" fill="#cedaeb"/>
<ellipse cx="1264.66" cy="340.7" rx="15.1" ry="13.8" fill="#e2d7d1"/>
<ellipse cx="1297.18" cy="340.7" rx="15.1" ry="13.8" fill="#e3d6cd"/>
<ellipse cx="1329.7" cy="340.7" rx="15.1" ry="13.8" fill="#d3dbe7"/>
<ellipse cx="1362.22" cy="340.7" rx="15.1" ry="13.8" fill="#cedaeb"/>
<ellipse cx="1394.74" cy="340.7" rx="15.1" ry="13.8" fill="#e3d6cd"/>
<ellipse cx="1427.26" cy="340.7" rx="15.1" ry="13.8" fill="#e3d6cd"/>
</g>
<g id="news-GN">
<ellipse cx="126.46" cy="370.62" rx="15.1" ry="13.8" fill="#d3dbe7"/>
<ellipse cx="158.98" cy="370.62" rx="15.1" ry="13.8" fill="#dcdddd"/>
<ellipse cx="191.5" cy="370.62" rx="15.1" ry="13.8" fill="#e5d4c9"/>
<ellipse cx="224.02" cy="370.62" rx="15.1" ry="13.8" fill="#d6dce4"/>
<ellipse cx="256.54" cy="370.62" rx="15.1" ry="13.8" fill="#dfdad6"/>
<ellipse cx="289.06" cy="370.62" rx="15.1" ry="13.8" fill="#ccd9ed"/>
<ellipse cx="321.58" cy="370.62" rx="15.1" ry="13.8" fill="#d8dce2"/>
<ellipse cx="354.1" cy="370.62" rx="15.1" ry="13.8" fill="#d3dbe7"/>
<ellipse cx="386.62" cy="370.62" rx="15.1" ry="13.8" fill="#d2dbe8"/>
<ellipse cx="419.14" cy="370.62" rx="15.1" ry="13.8" fill="#dfdad6"/>
<ellipse cx="451.66" cy="370.62" rx="15.1" ry="13.8" fill="#d5dbe5"/>
<ellipse cx="484.18" cy="370.62" rx="15.1" ry="13.8" fill="#e0d9d5"/>
<ellipse cx="516.7" cy="370.62" rx="15.1" ry="13.8" fill="#d6dce4"/>
<ellipse cx="549.22" cy="370.62" rx="15.1" ry="13.8" fill="#d8dce2"/>
<ellipse cx="581.74" cy="370.62" rx="15.1" ry="13.8" fill="#d3dbe7"/>
<ellipse cx="614.26" cy="370.62" rx="15.1" ry="13.8" fill="#d5dbe5"/>
<ellipse cx="646.78" cy="370.62" rx="15.1" ry="13.8" fill="#d8dce2"/>
<ellipse cx="679.3" cy="370.62" rx="15.1" ry="13.8" fill="#d8dce2"/>
<ellipse cx="711.82" cy="370.62" rx="15.1" ry="13.8" fill="#d5dbe5"/>
<ellipse cx="744.34" cy="370.62" rx="15.1" ry="13.8" fill="#d5dbe5"/>
<ellipse cx="776.86" cy="370.62" rx="15.1" ry="13.8" fill="#d5dbe5"/>
<ellipse cx="809.38" cy="370.62" rx="15.1" ry="13.8" fill="#cedaeb"/>
<ellipse cx="841.9" cy="370.62" rx="15.1" ry="13.8" fill="#d3dbe7"/>
<ellipse cx="874.42" cy="370.62" rx="15.1" ry="13.8" fill="#dbdcde"/>
<ellipse cx="906.94" cy="370.62" rx="15.1" ry="13.8" fill="#d6dce4"/>
<ellipse cx="939.46" cy="370.62" rx="15.1" ry="13.8" fill="#e4d5cb"/>
<ellipse cx="971.98" cy="370.62" rx="15.1" ry="13.8" fill="#e8d0c2"/>
<ellipse cx="1004.5" cy="370.62" rx="15.1" ry="13.8" fill="#d5dbe5"/>
<ellipse cx="1037.02" cy="370.62" rx="15.1" ry="13.8" fill="#ccd9ed"/>
<ellipse cx="1069.54" cy="370.62" rx="15.1" ry="13.8" fill="#8aa9fb"/>
<ellipse cx="1102.06" cy="370.62" rx="15.1" ry="13.8" fill="#ccd9ed"/>
<ellipse cx="1134.58" cy="370.62" rx="15.1" ry="13.8" fill="#e9cbbb"/>
<ellipse cx="1167.1" cy="370.62" rx="15.1" ry="13.8" fill="#cbd8ee"/>
<ellipse cx="1199.62" cy="370.62" rx="15.1" ry="13.8" fill="#ccd9ed"/>
<ellipse cx="1232.14" cy="370.62" rx="15.1" ry="13.8" fill="#cedaeb"/>
<ellipse cx="1264.66" cy="370.62" rx="15.1" ry="13.8" fill="#d3dbe7"/>
<ellipse cx="1297.18" cy="370.62" rx="15.1" ry="13.8" fill="#d5dbe5"/>
<ellipse cx="1329.7" cy="370.62" rx="15.1" ry="13.8" fill="#d5dbe5"/>
<ellipse cx="1362.22" cy="370.62" rx="15.1" ry="13.8" fill="#e5d4c9"/>
<ellipse cx="1394.74" cy="370.62" rx="15.1" ry="13.8" fill="#cedaeb"/>
<ellipse cx="1427.26" cy="370.62" rx="15.1" ry="13.8" fill="#cfdaea"/>
</g>
<g id="news-DG">
<ellipse cx="126.46" cy="400.54" rx="15.1" ry="13.8" fill="#c9d7f0"/>
<ellipse cx="158.98" cy="400.54" rx="15.1" ry="13.8" fill="#cbd8ee"/>
<ellipse cx="191.5" cy="400.54" rx="15.1" ry="13.8" fill="#c1d4f4"/>
<ellipse cx="224.02" cy="400.54" rx="15.1" ry="13.8" fill="#ccd9ed"/>
<ellipse cx="256.54" cy="400.54" rx="15.1" ry="13.8" fill="#c1d4f4"/>
<ellipse cx="289.06" cy="400.54" rx="15.1" ry="13.8" fill="#bad0f8"/>
<ellipse cx="321.58" cy="400.54" rx="15.1" ry="13.8" fill="#ccd9ed"/>
<ellipse cx="354.1" cy="400.54" rx="15.1" ry="13.8" fill="#c7d7f0"/>
<ellipse cx="386.62" cy="400.54" rx="15.1" ry="13.8" fill="#ccd9ed"/>
<ellipse cx="419.14" cy="400.54" rx="15.1" ry="13.8" fill="#c1d4f4"/>
<ellipse cx="451.66" cy="400.54" rx="15.1" ry="13.8" fill="#d2dbe8"/>
<ellipse cx="484.18" cy="400.54" rx="15.1" ry="13.8" fill="#d3dbe7"/>
<ellipse cx="516.7" cy="400.54" rx="15.1" ry="13.8" fill="#c4d5f3"/>
<ellipse cx="549.22" cy="400.54" rx="15.1" ry="13.8" fill="#cbd8ee"/>
<ellipse cx="581.74" cy="400.54" rx="15.1" ry="13.8" fill="#c1d4f4"/>
<ellipse cx="614.26" cy="400.54" rx="15.1" ry="13.8" fill="#c9d7f0"/>
<ellipse cx="646.78" cy="400.54" rx="15.1" ry="13.8" fill="#cedaeb"/>
<ellipse cx="679.3" cy="400.54" rx="15.1" ry="13.8" fill="#dfdad6"/>
<ellipse cx="711.82" cy="400.54" rx="15.1" ry="13.8" fill="#c4d5f3"/>
<ellipse cx="744.34" cy="400.54" rx="15.1" ry="13.8" fill="#e9cbbb"/>
<ellipse cx="776.86" cy="400.54" rx="15.1" ry="13.8" fill="#cedaeb"/>
<ellipse cx="809.38" cy="400.54" rx="15.1" ry="13.8" fill="#c4d5f3"/>
<ellipse cx="841.9" cy="400.54" rx="15.1" ry="13.8" fill="#cbd8ee"/>
<ellipse cx="874.42" cy="400.54" rx="15.1" ry="13.8" fill="#c9d7f0"/>
<ellipse cx="906.94" cy="400.54" rx="15.1" ry="13.8" fill="#cedaeb"/>
<ellipse cx="939.46" cy="400.54" rx="15.1" ry="13.8" fill="#ccd9ed"/>
<ellipse cx="971.98" cy="400.54" rx="15.1" ry="13.8" fill="#b1cbfc"/>
<ellipse cx="1004.5" cy="400.54" rx="15.1" ry="13.8" fill="#c5d6f2"/>
<ellipse cx="1037.02" cy="400.54" rx="15.1" ry="13.8" fill="#e5d4c9"/>
<ellipse cx="1069.54" cy="400.54" rx="15.1" ry="13.8" fill="#6682eb"/>
<ellipse cx="1102.06" cy="400.54" rx="15.1" ry="13.8" fill="#a7c4fd"/>
<ellipse cx="1134.58" cy="400.54" rx="15.1" ry="13.8" fill="#e9cbbb"/>
<ellipse cx="1167.1" cy="400.54" rx="15.1" ry="13.8" fill="#b5cdfa"/>
<ellipse cx="1199.62" cy="400.54" rx="15.1" ry="13.8" fill="#aec9fc"/>
<ellipse cx="1232.14" cy="400.54" rx="15.1" ry="13.8" fill="#c9d7f0"/>
<ellipse cx="1264.66" cy="400.54" rx="15.1" ry="13.8" fill="#c9d7f0"/>
<ellipse cx="1297.18" cy="400.54" rx="15.1" ry="13.8" fill="#c5d6f2"/>
<ellipse cx="1329.7" cy="400.54" rx="15.1" ry="13.8" fill="#c5d6f2"/>
<ellipse cx="1362.22" cy="400.54" rx="15.1" ry="13.8" fill="#95b3fd"/>
<ellipse cx="1394.74" cy="400.54" rx="15.1" ry="13.8" fill="#c1d4f4"/>
<ellipse cx="1427.26" cy="400.54" rx="15.1" ry="13.8" fill="#c1d4f4"/>
</g>
<g id="news-US">
<ellipse cx="126.46" cy="430.46" rx="15.1" ry="13.8" fill="#dcdddd"/>
<ellipse cx="158.98" cy="430.46" rx="15.1" ry="13.8" fill="#dcdddd"/>
<ellipse cx="191.5" cy="430.46" rx="15.1" ry="13.8" fill="#dbdcde"/>
<ellipse cx="224.02" cy="430.46" rx="15.1" ry="13.8" fill="#dcdddd"/>
<ellipse cx="256.54" cy="430.46" rx="15.1" ry="13.8" fill="#dcdddd"/>
<ellipse cx="289.06" cy="430.46" rx="15.1" ry="13.8" fill="#dedcda"/>
<ellipse cx="321.58" cy="430.46" rx="15.1" ry="13.8" fill="#dcdddd"/>
<ellipse cx="354.1" cy="430.46" rx="15.1" ry="13.8" fill="#dcdddd"/>
<ellipse cx="386.62" cy="430.46" rx="15.1" ry="13.8" fill="#dfdbd8"/>
<ellipse cx="419.14" cy="430.46" rx="15.1" ry="13.8" fill="#dcdddd"/>
<ellipse cx="451.66" cy="430.46" rx="15.1" ry="13.8" fill="#dfdbd8"/>
<ellipse cx="484.18" cy="430.46" rx="15.1" ry="13.8" fill="#dcdddd"/>
<ellipse cx="516.7" cy="430.46" rx="15.1" ry="13.8" fill="#dbdcde"/>
<ellipse cx="549.22" cy="430.46" rx="15.1" ry="13.8" fill="#dcdddd"/>
<ellipse cx="581.74" cy="430.46" rx="15.1" ry="13.8" fill="#dcdddd"/>
<ellipse cx="614.26" cy="430.46" rx="15.1" ry="13.8" fill="#dbdcde"/>
<ellipse cx="646.78" cy="430.46" rx="15.1" ry="13.8" fill="#dcdddd"/>
<ellipse cx="679.3" cy="430.46" rx="15.1" ry="13.8" fill="#dcdddd"/>
<ellipse cx="711.82" cy="430.46" rx="15.1" ry="13.8" fill="#dedcda"/>
<ellipse cx="744.34" cy="430.46" rx="15.1" ry="13.8" fill="#d9dce1"/>
<ellipse cx="776.86" cy="430.46" rx="15.1" ry="13.8" fill="#dfdad6"/>
<ellipse cx="809.38" cy="430.46" rx="15.1" ry="13.8" fill="#dedcda"/>
<ellipse cx="841.9" cy="430.46" rx="15.1" ry="13.8" fill="#dbdcde"/>
<ellipse cx="874.42" cy="430.46" rx="15.1" ry="13.8" fill="#dbdcde"/>
<ellipse cx="906.94" cy="430.46" rx="15.1" ry="13.8" fill="#dfdad6"/>
<ellipse cx="939.46" cy="430.46" rx="15.1" ry="13.8" fill="#dcdddd"/>
<ellipse cx="971.98" cy="430.46" rx="15.1" ry="13.8" fill="#dfdad6"/>
<ellipse cx="1004.5" cy="430.46" rx="15.1" ry="13.8" fill="#dcdddd"/>
<ellipse cx="1037.02" cy="430.46" rx="15.1" ry="13.8" fill="#e0d9d5"/>
<ellipse cx="1069.54" cy="430.46" rx="15.1" ry="13.8" fill="#cedaeb"/>
<ellipse cx="1102.06" cy="430.46" rx="15.1" ry="13.8" fill="#e0d9d5"/>
<ellipse cx="1134.58" cy="430.46" rx="15.1" ry="13.8" fill="#e0d9d5"/>
<ellipse cx="1167.1" cy="430.46" rx="15.1" ry="13.8" fill="#dbdcde"/>
<ellipse cx="1199.62" cy="430.46" rx="15.1" ry="13.8" fill="#dfdbd8"/>
<ellipse cx="1232.14" cy="430.46" rx="15.1" ry="13.8" fill="#dcdddd"/>
<ellipse cx="1264.66" cy="430.46" rx="15.1" ry="13.8" fill="#dcdddd"/>
<ellipse cx="1297.18" cy="430.46" rx="15.1" ry="13.8" fill="#dedcda"/>
<ellipse cx="1329.7" cy="430.46" rx="15.1" ry="13.8" fill="#dbdcde"/>
<ellipse cx="1362.22" cy="430.46" rx="15.1" ry="13.8" fill="#dbdcde"/>
<ellipse cx="1394.74" cy="430.46" rx="15.1" ry="13.8" fill="#dbdcde"/>
<ellipse cx="1427.26" cy="430.46" rx="15.1" ry="13.8" fill="#dbdcde"/>
</g>
<g id="news-BS">
<ellipse cx="126.46" cy="460.38" rx="15.1" ry="13.8" fill="#c5d6f2"/>
<ellipse cx="158.98" cy="460.38" rx="15.1" ry="13.8" fill="#e2d7d1"/>
<ellipse cx="191.5" cy="460.38" rx="15.1" ry="13.8" fill="#c9d7f0"/>
<ellipse cx="224.02" cy="460.38" rx="15.1" ry="13.8" fill="#c7d7f0"/>
<ellipse cx="256.54" cy="460.38" rx="15.1" ry="13.8" fill="#c7d7f0"/>
<ellipse cx="289.06" cy="460.38" rx="15.1" ry="13.8" fill="#c4d5f3"/>
<ellipse cx="321.58" cy="460.38" rx="15.1" ry="13.8" fill="#cbd8ee"/>
<ellipse cx="354.1" cy="460.38" rx="15.1" ry="13.8" fill="#e8d0c2"/>
<ellipse cx="386.62" cy="460.38" rx="15.1" ry="13.8" fill="#e3d6cf"/>
<ellipse cx="419.14" cy="460.38" rx="15.1" ry="13.8" fill="#ccd9ed"/>
<ellipse cx="451.66" cy="460.38" rx="15.1" ry="13.8" fill="#c5d6f2"/>
<ellipse cx="484.18" cy="460.38" rx="15.1" ry="13.8" fill="#cedaeb"/>
<ellipse cx="516.7" cy="460.38" rx="15.1" ry="13.8" fill="#e2d7d1"/>
<ellipse cx="549.22" cy="460.38" rx="15.1" ry="13.8" fill="#cedaeb"/>
<ellipse cx="581.74" cy="460.38" rx="15.1" ry="13.8" fill="#e3d6cd"/>
<ellipse cx="614.26" cy="460.38" rx="15.1" ry="13.8" fill="#c7d7f0"/>
<ellipse cx="646.78" cy="460.38" rx="15.1" ry="13.8" fill="#ccd9ed"/>
<ellipse cx="679.3" cy="460.38" rx="15.1" ry="13.8" fill="#e4d5cb"/>
<ellipse cx="711.82" cy="460.38" rx="15.1" ry="13.8" fill="#ccd9ed"/>
<ellipse cx="744.34" cy="460.38" rx="15.1" ry="13.8" fill="#c0d4f5"/>
<ellipse cx="776.86" cy="460.38" rx="15.1" ry="13.8" fill="#c7d7f0"/>
<ellipse cx="809.38" cy="460.38" rx="15.1" ry="13.8" fill="#c9d7f0"/>
<ellipse cx="841.9" cy="460.38" rx="15.1" ry="13.8" fill="#c5d6f2"/>
<ellipse cx="874.42" cy="460.38" rx="15.1" ry="13.8" fill="#d2dbe8"/>
<ellipse cx="906.94" cy="460.38" rx="15.1" ry="13.8" fill="#cedaeb"/>
<ellipse cx="939.46" cy="460.38" rx="15.1" ry="13.8" fill="#c7d7f0"/>
<ellipse cx="971.98" cy="460.38" rx="15.1" ry="13.8" fill="#bad0f8"/>
<ellipse cx="1004.5" cy="460.38" rx="15.1" ry="13.8" fill="#c4d5f3"/>
<ellipse cx="1037.02" cy="460.38" rx="15.1" ry="13.8" fill="#eac7b6"/>
<ellipse cx="1069.54" cy="460.38" rx="15.1" ry="13.8" fill="#c6383b"/>
<ellipse cx="1102.06" cy="460.38" rx="15.1" ry="13.8" fill="#b5cdfa"/>
<ellipse cx="1134.58" cy="460.38" rx="15.1" ry="13.8" fill="#eac7b6"/>
<ellipse cx="1167.1" cy="460.38" rx="15.1" ry="13.8" fill="#c9d7f0"/>
<ellipse cx="1199.62" cy="460.38" rx="15.1" ry="13.8" fill="#ccd9ed"/>
<ellipse cx="1232.14" cy="460.38" rx="15.1" ry="13.8" fill="#c0d4f5"/>
<ellipse cx="1264.66" cy="460.38" rx="15.1" ry="13.8" fill="#c0d4f5"/>
<ellipse cx="1297.18" cy="460.38" rx="15.1" ry="13.8" fill="#c4d5f3"/>
<ellipse cx="1329.7" cy="460.38" rx="15.1" ry="13.8" fill="#cedaeb"/>
<ellipse cx="1362.22" cy="460.38" rx="15.1" ry="13.8" fill="#bad0f8"/>
<ellipse cx="1394.74" cy="460.38" rx="15.1" ry="13.8" fill="#9fbcfd"/>
<ellipse cx="1427.26" cy="460.38" rx="15.1" ry="13.8" fill="#c9d7f0"/>
</g>
<g id="news-JB">
<ellipse cx="126.46" cy="490.3" rx="15.1" ry="13.8" fill="#e0d9d5"/>
<ellipse cx="158.98" cy="490.3" rx="15.1" ry="13.8" fill="#dfdad6"/>
<ellipse cx="191.5" cy="490.3" rx="15.1" ry="13.8" fill="#d8dce2"/>
<ellipse cx="224.02" cy="490.3" rx="15.1" ry="13.8" fill="#dedcda"/>
<ellipse cx="256.54" cy="490.3" rx="15.1" ry="13.8" fill="#e2d7d1"/>
<ellipse cx="289.06" cy="490.3" rx="15.1" ry="13.8" fill="#dfdad6"/>
<ellipse cx="321.58" cy="490.3" rx="15.1" ry="13.8" fill="#d6dce4"/>
<ellipse cx="354.1" cy="490.3" rx="15.1" ry="13.8" fill="#dfdad6"/>
<ellipse cx="386.62" cy="490.3" rx="15.1" ry="13.8" fill="#dfdbd8"/>
<ellipse cx="419.14" cy="490.3" rx="15.1" ry="13.8" fill="#d8dce2"/>
<ellipse cx="451.66" cy="490.3" rx="15.1" ry="13.8" fill="#d8dce2"/>
<ellipse cx="484.18" cy="490.3" rx="15.1" ry="13.8" fill="#dcdddd"/>
<ellipse cx="516.7" cy="490.3" rx="15.1" ry="13.8" fill="#dbdcde"/>
<ellipse cx="549.22" cy="490.3" rx="15.1" ry="13.8" fill="#dedcda"/>
<ellipse cx="581.74" cy="490.3" rx="15.1" ry="13.8" fill="#d8dce2"/>
<ellipse cx="614.26" cy="490.3" rx="15.1" ry="13.8" fill="#dedcda"/>
<ellipse cx="646.78" cy="490.3" rx="15.1" ry="13.8" fill="#d8dce2"/>
<ellipse cx="679.3" cy="490.3" rx="15.1" ry="13.8" fill="#dfdad6"/>
<ellipse cx="711.82" cy="490.3" rx="15.1" ry="13.8" fill="#dfdad6"/>
<ellipse cx="744.34" cy="490.3" rx="15.1" ry="13.8" fill="#d6dce4"/>
<ellipse cx="776.86" cy="490.3" rx="15.1" ry="13.8" fill="#dfdad6"/>
<ellipse cx="809.38" cy="490.3" rx="15.1" ry="13.8" fill="#dfdad6"/>
<ellipse cx="841.9" cy="490.3" rx="15.1" ry="13.8" fill="#d8dce2"/>
<ellipse cx="874.42" cy="490.3" rx="15.1" ry="13.8" fill="#d8dce2"/>
<ellipse cx="906.94" cy="490.3" rx="15.1" ry="13.8" fill="#d8dce2"/>
<ellipse cx="939.46" cy="490.3" rx="15.1" ry="13.8" fill="#dfdbd8"/>
<ellipse cx="971.98" cy="490.3" rx="15.1" ry="13.8" fill="#dfdad6"/>
<ellipse cx="1004.5" cy="490.3" rx="15.1" ry="13.8" fill="#d9dce1"/>
<ellipse cx="1037.02" cy="490.3" rx="15.1" ry="13.8" fill="#d6dce4"/>
<ellipse cx="1069.54" cy="490.3" rx="15.1" ry="13.8" fill="#e5d4c9"/>
<ellipse cx="1102.06" cy="490.3" rx="15.1" ry="13.8" fill="#e1d8d3"/>
<ellipse cx="1134.58" cy="490.3" rx="15.1" ry="13.8" fill="#e2d7d1"/>
<ellipse cx="1167.1" cy="490.3" rx="15.1" ry="13.8" fill="#d5dbe5"/>
<ellipse cx="1199.62" cy="490.3" rx="15.1" ry="13.8" fill="#e2d7d1"/>
<ellipse cx="1232.14" cy="490.3" rx="15.1" ry="13.8" fill="#d5dbe5"/>
<ellipse cx="1264.66" cy="490.3" rx="15.1" ry="13.8" fill="#d6dce4"/>
<ellipse cx="1297.18" cy="490.3" rx="15.1" ry="13.8" fill="#d9dce1"/>
<ellipse cx="1329.7" cy="490.3" rx="15.1" ry="13.8" fill="#d6dce4"/>
<ellipse cx="1362.22" cy="490.3" rx="15.1" ry="13.8" fill="#dcdddd"/>
<ellipse cx="1394.74" cy="490.3" rx="15.1" ry="13.8" fill="#d6dce4"/>
<ellipse cx="1427.26" cy="490.3" rx="15.1" ry="13.8" fill="#d6dce4"/>
</g>
<g id="news-JN">
<ellipse cx="126.46" cy="520.22" rx="15.1" ry="13.8" fill="#e3d6cd"/>
<ellipse cx="158.98" cy="520.22" rx="15.1" ry="13.8" fill="#c9d7f0"/>
<ellipse cx="191.5" cy="520.22" rx="15.1" ry="13.8" fill="#cfdaea"/>
<ellipse cx="224.02" cy="520.22" rx="15.1" ry="13.8" fill="#e3d6cd"/>
<ellipse cx="256.54" cy="520.22" rx="15.1" ry="13.8" fill="#cfdaea"/>
<ellipse cx="289.06" cy="520.22" rx="15.1" ry="13.8" fill="#cedaeb"/>
<ellipse cx="321.58" cy="520.22" rx="15.1" ry="13.8" fill="#ccd9ed"/>
<ellipse cx="354.1" cy="520.22" rx="15.1" ry="13.8" fill="#cedaeb"/>
<ellipse cx="386.62" cy="520.22" rx="15.1" ry="13.8" fill="#e3d6cf"/>
<ellipse cx="419.14" cy="520.22" rx="15.1" ry="13.8" fill="#e3d6cf"/>
<ellipse cx="451.66" cy="520.22" rx="15.1" ry="13.8" fill="#cedaeb"/>
<ellipse cx="484.18" cy="520.22" rx="15.1" ry="13.8" fill="#d2dbe8"/>
<ellipse cx="516.7" cy="520.22" rx="15.1" ry="13.8" fill="#e0d9d5"/>
<ellipse cx="549.22" cy="520.22" rx="15.1" ry="13.8" fill="#d5dbe5"/>
<ellipse cx="581.74" cy="520.22" rx="15.1" ry="13.8" fill="#e7d2c6"/>
<ellipse cx="614.26" cy="520.22" rx="15.1" ry="13.8" fill="#d5dbe5"/>
<ellipse cx="646.78" cy="520.22" rx="15.1" ry="13.8" fill="#cfdaea"/>
<ellipse cx="679.3" cy="520.22" rx="15.1" ry="13.8" fill="#d5dbe5"/>
<ellipse cx="711.82" cy="520.22" rx="15.1" ry="13.8" fill="#e8cfc0"/>
<ellipse cx="744.34" cy="520.22" rx="15.1" ry="13.8" fill="#e3d6cd"/>
<ellipse cx="776.86" cy="520.22" rx="15.1" ry="13.8" fill="#e3d6cd"/>
<ellipse cx="809.38" cy="520.22" rx="15.1" ry="13.8" fill="#e8d0c2"/>
<ellipse cx="841.9" cy="520.22" rx="15.1" ry="13.8" fill="#d2dbe8"/>
<ellipse cx="874.42" cy="520.22" rx="15.1" ry="13.8" fill="#e5d4c9"/>
<ellipse cx="906.94" cy="520.22" rx="15.1" ry="13.8" fill="#e0d9d5"/>
<ellipse cx="939.46" cy="520.22" rx="15.1" ry="13.8" fill="#e2d7d1"/>
<ellipse cx="971.98" cy="520.22" rx="15.1" ry="13.8" fill="#e9c9b9"/>
<ellipse cx="1004.5" cy="520.22" rx="15.1" ry="13.8" fill="#e3d6cf"/>
<ellipse cx="1037.02" cy="520.22" rx="15.1" ry="13.8" fill="#e4d5cb"/>
<ellipse cx="1069.54" cy="520.22" rx="15.1" ry="13.8" fill="#ea9e86"/>
<ellipse cx="1102.06" cy="520.22" rx="15.1" ry="13.8" fill="#e9cbbb"/>
<ellipse cx="1134.58" cy="520.22" rx="15.1" ry="13.8" fill="#e9977f"/>
<ellipse cx="1167.1" cy="520.22" rx="15.1" ry="13.8" fill="#cbd8ee"/>
<ellipse cx="1199.62" cy="520.22" rx="15.1" ry="13.8" fill="#e4d5cb"/>
<ellipse cx="1232.14" cy="520.22" rx="15.1" ry="13.8" fill="#c0d4f5"/>
<ellipse cx="1264.66" cy="520.22" rx="15.1" ry="13.8" fill="#eac7b6"/>
<ellipse cx="1297.18" cy="520.22" rx="15.1" ry="13.8" fill="#cbd8ee"/>
<ellipse cx="1329.7" cy="520.22" rx="15.1" ry="13.8" fill="#cedaeb"/>
<ellipse cx="1362.22" cy="520.22" rx="15.1" ry="13.8" fill="#c0d4f5"/>
<ellipse cx="1394.74" cy="520.22" rx="15.1" ry="13.8" fill="#ccd9ed"/>
<ellipse cx="1427.26" cy="520.22" rx="15.1" ry="13.8" fill="#e9cbbb"/>
</g>
<g id="news-GJ">
<ellipse cx="126.46" cy="550.14" rx="15.1" ry="13.8" fill="#d2dbe8"/>
<ellipse cx="158.98" cy="550.14" rx="15.1" ry="13.8" fill="#d2dbe8"/>
<ellipse cx="191.5" cy="550.14" rx="15.1" ry="13.8" fill="#ccd9ed"/>
<ellipse cx="224.02" cy="550.14" rx="15.1" ry="13.8" fill="#ccd9ed"/>
<ellipse cx="256.54" cy="550.14" rx="15.1" ry="13.8" fill="#d2dbe8"/>
<ellipse cx="289.06" cy="550.14" rx="15.1" ry="13.8" fill="#c0d4f5"/>
<ellipse cx="321.58" cy="550.14" rx="15.1" ry="13.8" fill="#c1d4f4"/>
<ellipse cx="354.1" cy="550.14" rx="15.1" ry="13.8" fill="#c5d6f2"/>
<ellipse cx="386.62" cy="550.14" rx="15.1" ry="13.8" fill="#e5d4c9"/>
<ellipse cx="419.14" cy="550.14" rx="15.1" ry="13.8" fill="#c9d7f0"/>
<ellipse cx="451.66" cy="550.14" rx="15.1" ry="13.8" fill="#c7d7f0"/>
<ellipse cx="484.18" cy="550.14" rx="15.1" ry="13.8" fill="#c5d6f2"/>
<ellipse cx="516.7" cy="550.14" rx="15.1" ry="13.8" fill="#cfdaea"/>
<ellipse cx="549.22" cy="550.14" rx="15.1" ry="13.8" fill="#d2dbe8"/>
<ellipse cx="581.74" cy="550.14" rx="15.1" ry="13.8" fill="#cedaeb"/>
<ellipse cx="614.26" cy="550.14" rx="15.1" ry="13.8" fill="#c7d7f0"/>
<ellipse cx="646.78" cy="550.14" rx="15.1" ry="13.8" fill="#cbd8ee"/>
<ellipse cx="679.3" cy="550.14" rx="15.1" ry="13.8" fill="#d5dbe5"/>
<ellipse cx="711.82" cy="550.14" rx="15.1" ry="13.8" fill="#cedaeb"/>
<ellipse cx="744.34" cy="550.14" rx="15.1" ry="13.8" fill="#d3dbe7"/>
<ellipse cx="776.86" cy="550.14" rx="15.1" ry="13.8" fill="#d3dbe7"/>
<ellipse cx="809.38" cy="550.14" rx="15.1" ry="13.8" fill="#d2dbe8"/>
<ellipse cx="841.9" cy="550.14" rx="15.1" ry="13.8" fill="#d6dce4"/>
<ellipse cx="874.42" cy="550.14" rx="15.1" ry="13.8" fill="#d5dbe5"/>
<ellipse cx="906.94" cy="550.14" rx="15.1" ry="13.8" fill="#d6dce4"/>
<ellipse cx="939.46" cy="550.14" rx="15.1" ry="13.8" fill="#d6dce4"/>
<ellipse cx="971.98" cy="550.14" rx="15.1" ry="13.8" fill="#d3dbe7"/>
<ellipse cx="1004.5" cy="550.14" rx="15.1" ry="13.8" fill="#e1d8d3"/>
<ellipse cx="1037.02" cy="550.14" rx="15.1" ry="13.8" fill="#e3d6cd"/>
<ellipse cx="1069.54" cy="550.14" rx="15.1" ry="13.8" fill="#b5cdfa"/>
<ellipse cx="1102.06" cy="550.14" rx="15.1" ry="13.8" fill="#ccd9ed"/>
<ellipse cx="1134.58" cy="550.14" rx="15.1" ry="13.8" fill="#e9cbbb"/>
<ellipse cx="1167.1" cy="550.14" rx="15.1" ry="13.8" fill="#d3dbe7"/>
<ellipse cx="1199.62" cy="550.14" rx="15.1" ry="13.8" fill="#d3dbe7"/>
<ellipse cx="1232.14" cy="550.14" rx="15.1" ry="13.8" fill="#e3d6cf"/>
<ellipse cx="1264.66" cy="550.14" rx="15.1" ry="13.8" fill="#d5dbe5"/>
<ellipse cx="1297.18" cy="550.14" rx="15.1" ry="13.8" fill="#d5dbe5"/>
<ellipse cx="1329.7" cy="550.14" rx="15.1" ry="13.8" fill="#e2d7d1"/>
<ellipse cx="1362.22" cy="550.14" rx="15.1" ry="13.8" fill="#cedaeb"/>
<ellipse cx="1394.74" cy="550.14" rx="15.1" ry="13.8" fill="#c5d6f2"/>
<ellipse cx="1427.26" cy="550.14" rx="15.1" ry="13.8" fill="#d3dbe7"/>
</g>
<g id="news-JJ">
<ellipse cx="126.46" cy="580.06" rx="15.1" ry="13.8" fill="#d3dbe7"/>
<ellipse cx="158.98" cy="580.06" rx="15.1" ry="13.8" fill="#d3dbe7"/>
<ellipse cx="191.5" cy="580.06" rx="15.1" ry="13.8" fill="#dfdad6"/>
<ellipse cx="224.02" cy="580.06" rx="15.1" ry="13.8" fill="#d2dbe8"/>
<ellipse cx="256.54" cy="580.06" rx="15.1" ry="13.8" fill="#d3dbe7"/>
<ellipse cx="289.06" cy="580.06" rx="15.1" ry="13.8" fill="#d5dbe5"/>
<ellipse cx="321.58" cy="580.06" rx="15.1" ry="13.8" fill="#d3dbe7"/>
<ellipse cx="354.1" cy="580.06" rx="15.1" ry="13.8" fill="#d3dbe7"/>
<ellipse cx="386.62" cy="580.06" rx="15.1" ry="13.8" fill="#d5dbe5"/>
<ellipse cx="419.14" cy="580.06" rx="15.1" ry="13.8" fill="#dfdad6"/>
<ellipse cx="451.66" cy="580.06" rx="15.1" ry="13.8" fill="#d5dbe5"/>
<ellipse cx="484.18" cy="580.06" rx="15.1" ry="13.8" fill="#d5dbe5"/>
<ellipse cx="516.7" cy="580.06" rx="15.1" ry="13.8" fill="#dfdad6"/>
<ellipse cx="549.22" cy="580.06" rx="15.1" ry="13.8" fill="#e6d3c7"/>
<ellipse cx="581.74" cy="580.06" rx="15.1" ry="13.8" fill="#c7d7f0"/>
<ellipse cx="614.26" cy="580.06" rx="15.1" ry="13.8" fill="#d5dbe5"/>
<ellipse cx="646.78" cy="580.06" rx="15.1" ry="13.8" fill="#d5dbe5"/>
<ellipse cx="679.3" cy="580.06" rx="15.1" ry="13.8" fill="#d5dbe5"/>
<ellipse cx="711.82" cy="580.06" rx="15.1" ry="13.8" fill="#cfdaea"/>
<ellipse cx="744.34" cy="580.06" rx="15.1" ry="13.8" fill="#e1d8d3"/>
<ellipse cx="776.86" cy="580.06" rx="15.1" ry="13.8" fill="#cfdaea"/>
<ellipse cx="809.38" cy="580.06" rx="15.1" ry="13.8" fill="#dfdad6"/>
<ellipse cx="841.9" cy="580.06" rx="15.1" ry="13.8" fill="#d6dce4"/>
<ellipse cx="874.42" cy="580.06" rx="15.1" ry="13.8" fill="#d5dbe5"/>
<ellipse cx="906.94" cy="580.06" rx="15.1" ry="13.8" fill="#d5dbe5"/>
<ellipse cx="939.46" cy="580.06" rx="15.1" ry="13.8" fill="#d6dce4"/>
<ellipse cx="971.98" cy="580.06" rx="15.1" ry="13.8" fill="#cfdaea"/>
<ellipse cx="1004.5" cy="580.06" rx="15.1" ry="13.8" fill="#d6dce4"/>
<ellipse cx="1037.02" cy="580.06" rx="15.1" ry="13.8" fill="#e5d4c9"/>
<ellipse cx="1069.54" cy="580.06" rx="15.1" ry="13.8" fill="#c0d4f5"/>
<ellipse cx="1102.06" cy="580.06" rx="15.1" ry="13.8" fill="#e4d5cb"/>
<ellipse cx="1134.58" cy="580.06" rx="15.1" ry="13.8" fill="#e2d7d1"/>
<ellipse cx="1167.1" cy="580.06" rx="15.1" ry="13.8" fill="#d3dbe7"/>
<ellipse cx="1199.62" cy="580.06" rx="15.1" ry="13.8" fill="#d3dbe7"/>
<ellipse cx="1232.14" cy="580.06" rx="15.1" ry="13.8" fill="#d3dbe7"/>
<ellipse cx="1264.66" cy="580.06" rx="15.1" ry="13.8" fill="#d6dce4"/>
<ellipse cx="1297.18" cy="580.06" rx="15.1" ry="13.8" fill="#d3dbe7"/>
<ellipse cx="1329.7" cy="580.06" rx="15.1" ry="13.8" fill="#d3dbe7"/>
<ellipse cx="1362.22" cy="580.06" rx="15.1" ry="13.8" fill="#d8dce2"/>
<ellipse cx="1394.74" cy="580.06" rx="15.1" ry="13.8" fill="#cfdaea"/>
<ellipse cx="1427.26" cy="580.06" rx="15.1" ry="13.8" fill="#cedaeb"/>
</g>
<path d="M105.6 85.2H110.2M105.6 131.26H110.2M105.6 161.18H110.2M105.6 191.1H110.2M105.6 221.02H110.2M105.6 250.94H110.2M105.6 280.86H110.2M105.6 310.78H110.2M105.6 340.7H110.2M105.6 370.62H110.2M105.6 400.54H110.2M105.6 430.46H110.2M105.6 460.38H110.2M105.6 490.3H110.2M105.6 520.22H110.2M105.6 550.14H110.2M105.6 580.06H110.2M126.46 102.7V107.3M126.46 595.02V600.02M321.58 102.7V107.3M321.58 595.02V600.02M516.7 102.7V107.3M516.7 595.02V600.02M711.82 102.7V107.3M711.82 595.02V600.02M906.94 102.7V107.3M906.94 595.02V600.02M1102.06 102.7V107.3M1102.06 595.02V600.02M1297.18 102.7V107.3M1297.18 595.02V600.02" fill="none" stroke="#111" stroke-width="1.15"/>
<text transform="translate(101.4 140.46) scale(1 1.04)" font-size="25.7" text-anchor="end">GW</text>
<text transform="translate(101.4 170.38) scale(1 1.04)" font-size="25.7" text-anchor="end">GG</text>
<text transform="translate(101.4 200.3) scale(1 1.04)" font-size="25.7" text-anchor="end">SU</text>
<text transform="translate(101.4 230.22) scale(1 1.04)" font-size="25.7" text-anchor="end">IC</text>
<text transform="translate(101.4 260.14) scale(1 1.04)" font-size="25.7" text-anchor="end">CB</text>
<text transform="translate(101.4 290.06) scale(1 1.04)" font-size="25.7" text-anchor="end">CN</text>
<text transform="translate(101.4 319.98) scale(1 1.04)" font-size="25.7" text-anchor="end">DJ</text>
<text transform="translate(101.4 349.9) scale(1 1.04)" font-size="25.7" text-anchor="end">GB</text>
<text transform="translate(101.4 379.82) scale(1 1.04)" font-size="25.7" text-anchor="end">GN</text>
<text transform="translate(101.4 409.74) scale(1 1.04)" font-size="25.7" text-anchor="end">DG</text>
<text transform="translate(101.4 439.66) scale(1 1.04)" font-size="25.7" text-anchor="end">US</text>
<text transform="translate(101.4 469.58) scale(1 1.04)" font-size="25.7" text-anchor="end">BS</text>
<text transform="translate(101.4 499.5) scale(1 1.04)" font-size="25.7" text-anchor="end">JB</text>
<text transform="translate(101.4 529.42) scale(1 1.04)" font-size="25.7" text-anchor="end">JN</text>
<text transform="translate(101.4 559.34) scale(1 1.04)" font-size="25.7" text-anchor="end">GJ</text>
<text transform="translate(101.4 589.26) scale(1 1.04)" font-size="25.7" text-anchor="end">JJ</text>
<text transform="translate(102 94.4) scale(1 1.02)" font-size="23.9" text-anchor="end" font-weight="bold">Twitter/X</text>
<text transform="translate(126.46 624.4) scale(1 1.03)" font-size="26.2" text-anchor="middle">Jan 2020</text>
<text transform="translate(321.58 624.4) scale(1 1.03)" font-size="26.2" text-anchor="middle">Jul 2020</text>
<text transform="translate(516.7 624.4) scale(1 1.03)" font-size="26.2" text-anchor="middle">Jan 2021</text>
<text transform="translate(711.82 624.4) scale(1 1.03)" font-size="26.2" text-anchor="middle">Jul 2021</text>
<text transform="translate(906.94 624.4) scale(1 1.03)" font-size="26.2" text-anchor="middle">Jan 2022</text>
<text transform="translate(1102.06 624.4) scale(1 1.03)" font-size="26.2" text-anchor="middle">Jul 2022</text>
<text transform="translate(1297.18 624.4) scale(1 1.03)" font-size="26.2" text-anchor="middle">Jan 2023</text>
<rect x="1019.5" y="66.8" width="65.5" height="532.8" fill="none" stroke="#000" stroke-width="7.6"/>
<rect x="1313.7" y="66.8" width="65.4" height="532.8" fill="none" stroke="#000" stroke-width="7.6"/>
<text transform="translate(1052.2 45.5) scale(1 1.03)" font-size="41.5" text-anchor="middle" font-weight="bold">(I)</text>
<text transform="translate(1345 45.5) scale(1 1.03)" font-size="41.5" text-anchor="middle" font-weight="bold">(II)</text>
<text transform="translate(67.3 39)" font-size="47" text-anchor="middle" font-weight="bold">(a)</text>
</g>
<defs>
<linearGradient id="gtw" x1="0" x2="1" y1="0" y2="0">
<stop offset="0" stop-color="#6a2b0f"/>
<stop offset="0.07" stop-color="#883910"/>
<stop offset="0.12" stop-color="#9a4516"/>
<stop offset="0.25" stop-color="#d06420"/>
<stop offset="0.3" stop-color="#cf7c40"/>
<stop offset="0.38" stop-color="#d0a486"/>
<stop offset="0.44" stop-color="#d8c6b8"/>
<stop offset="0.47" stop-color="#dad3cc"/>
<stop offset="0.5" stop-color="#dcdcda"/>
<stop offset="0.53" stop-color="#d0dcda"/>
<stop offset="0.55" stop-color="#c0dbd9"/>
<stop offset="0.62" stop-color="#96d8d4"/>
<stop offset="0.75" stop-color="#5ccace"/>
<stop offset="0.88" stop-color="#459a98"/>
<stop offset="1" stop-color="#2e6e60"/>
</linearGradient>
<linearGradient id="gnw" x1="0" x2="1" y1="0" y2="0">
<stop offset="0" stop-color="#b81e2e"/>
<stop offset="0.03" stop-color="#c02e36"/>
<stop offset="0.06" stop-color="#c93e3e"/>
<stop offset="0.09" stop-color="#d14c46"/>
<stop offset="0.12" stop-color="#d95a4e"/>
<stop offset="0.16" stop-color="#de6859"/>
<stop offset="0.19" stop-color="#e27664"/>
<stop offset="0.22" stop-color="#e5846f"/>
<stop offset="0.25" stop-color="#e8927a"/>
<stop offset="0.28" stop-color="#ea9e86"/>
<stop offset="0.31" stop-color="#eca991"/>
<stop offset="0.34" stop-color="#ecb49d"/>
<stop offset="0.38" stop-color="#ecbea9"/>
<stop offset="0.41" stop-color="#eac7b6"/>
<stop offset="0.44" stop-color="#e8d0c2"/>
<stop offset="0.47" stop-color="#e2d6cf"/>
<stop offset="0.5" stop-color="#dcdddd"/>
<stop offset="0.53" stop-color="#d4dbe6"/>
<stop offset="0.56" stop-color="#cbd8ee"/>
<stop offset="0.59" stop-color="#c1d4f4"/>
<stop offset="0.62" stop-color="#b7cff9"/>
<stop offset="0.66" stop-color="#adc9fd"/>
<stop offset="0.69" stop-color="#a2bffe"/>
<stop offset="0.72" stop-color="#96b5fd"/>
<stop offset="0.75" stop-color="#8aa9fb"/>
<stop offset="0.78" stop-color="#7f9df7"/>
<stop offset="0.81" stop-color="#7492f2"/>
<stop offset="0.84" stop-color="#6b87ee"/>
<stop offset="0.88" stop-color="#627ce8"/>
<stop offset="0.91" stop-color="#5970e1"/>
<stop offset="0.94" stop-color="#5064d9"/>
<stop offset="0.97" stop-color="#4858cf"/>
<stop offset="1" stop-color="#424dc6"/>
</linearGradient>
<linearGradient id="gnv" x1="0" x2="0" y1="1" y2="0">
<stop offset="0" stop-color="#b81e2e"/>
<stop offset="0.03" stop-color="#c02e36"/>
<stop offset="0.06" stop-color="#c93e3e"/>
<stop offset="0.09" stop-color="#d14c46"/>
<stop offset="0.12" stop-color="#d95a4e"/>
<stop offset="0.16" stop-color="#de6859"/>
<stop offset="0.19" stop-color="#e27664"/>
<stop offset="0.22" stop-color="#e5846f"/>
<stop offset="0.25" stop-color="#e8927a"/>
<stop offset="0.28" stop-color="#ea9e86"/>
<stop offset="0.31" stop-color="#eca991"/>
<stop offset="0.34" stop-color="#ecb49d"/>
<stop offset="0.38" stop-color="#ecbea9"/>
<stop offset="0.41" stop-color="#eac7b6"/>
<stop offset="0.44" stop-color="#e8d0c2"/>
<stop offset="0.47" stop-color="#e2d6cf"/>
<stop offset="0.5" stop-color="#dcdddd"/>
<stop offset="0.53" stop-color="#d4dbe6"/>
<stop offset="0.56" stop-color="#cbd8ee"/>
<stop offset="0.59" stop-color="#c1d4f4"/>
<stop offset="0.62" stop-color="#b7cff9"/>
<stop offset="0.66" stop-color="#adc9fd"/>
<stop offset="0.69" stop-color="#a2bffe"/>
<stop offset="0.72" stop-color="#96b5fd"/>
<stop offset="0.75" stop-color="#8aa9fb"/>
<stop offset="0.78" stop-color="#7f9df7"/>
<stop offset="0.81" stop-color="#7492f2"/>
<stop offset="0.84" stop-color="#6b87ee"/>
<stop offset="0.88" stop-color="#627ce8"/>
<stop offset="0.91" stop-color="#5970e1"/>
<stop offset="0.94" stop-color="#5064d9"/>
<stop offset="0.97" stop-color="#4858cf"/>
<stop offset="1" stop-color="#424dc6"/>
</linearGradient>
</defs>
<g id="legend-a">
<rect x="389" y="654" width="783.2" height="21.7" fill="url(#gtw)"/>
<path d="M389.5 654L349.5 664.85L389.5 675.7Z" fill="#6a2b0f"/>
<path d="M1171.7 654L1211.5 664.85L1171.7 675.7Z" fill="#2e6e60"/>
<path d="M389 654H1172.2L1211.5 664.85L1172.2 675.7H389L349.5 664.85Z" fill="none" stroke="#222" stroke-width="1.2" stroke-linejoin="miter"/>
<path d="M389 675.7V680.7M584.8 675.7V680.7M780.6 675.7V680.7M976.4 675.7V680.7M1172.2 675.7V680.7" stroke="#222" stroke-width="1" fill="none"/>
<rect x="389" y="723.2" width="783.2" height="21.5" fill="url(#gnw)"/>
<path d="M389.5 723.2L349.5 733.95L389.5 744.7Z" fill="#b81e2e"/>
<path d="M1171.7 723.2L1211.5 733.95L1171.7 744.7Z" fill="#424dc6"/>
<path d="M389 723.2H1172.2L1211.5 733.95L1172.2 744.7H389L349.5 733.95Z" fill="none" stroke="#222" stroke-width="1.2" stroke-linejoin="miter"/>
<path d="M389 744.7V749.7M584.8 744.7V749.7M780.6 744.7V749.7M976.4 744.7V749.7M1172.2 744.7V749.7" stroke="#222" stroke-width="1" fill="none"/>
<text transform="translate(389 701.6) scale(1 1.07)" font-size="23.5" text-anchor="middle">100k</text>
<text transform="translate(584.8 701.6) scale(1 1.07)" font-size="23.5" text-anchor="middle">50k</text>
<text transform="translate(780.6 701.6) scale(1 1.07)" font-size="23.5" text-anchor="middle">0</text>
<text transform="translate(976.4 701.6) scale(1 1.07)" font-size="23.5" text-anchor="middle">50k</text>
<text transform="translate(1172.2 701.6) scale(1 1.07)" font-size="23.5" text-anchor="middle">100k</text>
<text transform="translate(389 770.6) scale(1 1.07)" font-size="23.5" text-anchor="middle">80</text>
<text transform="translate(584.8 770.6) scale(1 1.07)" font-size="23.5" text-anchor="middle">40</text>
<text transform="translate(780.6 770.6) scale(1 1.07)" font-size="23.5" text-anchor="middle">0</text>
<text transform="translate(976.4 770.6) scale(1 1.07)" font-size="23.5" text-anchor="middle">40</text>
<text transform="translate(1172.2 770.6) scale(1 1.07)" font-size="23.5" text-anchor="middle">80</text>
<text transform="translate(327 678.6) scale(1 1.04)" font-size="30.2" text-anchor="end">Twitter/X</text>
<text transform="translate(327 744) scale(1 1.04)" font-size="29.8" text-anchor="end">News</text>
<text transform="translate(589.2 806.5) scale(1 1.02)" font-size="32.8" text-anchor="middle">Negative</text>
<text transform="translate(971.5 806.5) scale(1 1.02)" font-size="33" text-anchor="middle">Positive</text>
</g>
<g id="panel-b">
<rect x="359.18" y="965.4" width="137.72" height="29.84" fill="#ecb69f"/>
<rect x="324.9" y="994.64" width="69.16" height="29.84" fill="#e8947c"/>
<rect x="393.46" y="994.64" width="69.16" height="29.84" fill="#a7c4fd"/>
<rect x="462.02" y="994.64" width="34.88" height="29.84" fill="#ecb69f"/>
<rect x="256.34" y="1023.88" width="69.16" height="29.84" fill="#a7c4fd"/>
<rect x="324.9" y="1023.88" width="69.16" height="29.84" fill="#e8947c"/>
<rect x="393.46" y="1023.88" width="69.16" height="29.84" fill="#a7c4fd"/>
<rect x="462.02" y="1023.88" width="69.16" height="29.84" fill="#ecb69f"/>
<rect x="187.78" y="1053.12" width="34.88" height="29.84" fill="#c7d7f0"/>
<rect x="222.06" y="1053.12" width="69.16" height="29.84" fill="#a7c4fd"/>
<rect x="290.62" y="1053.12" width="103.44" height="29.84" fill="#e8947c"/>
<rect x="393.46" y="1053.12" width="103.44" height="29.84" fill="#a7c4fd"/>
<rect x="496.3" y="1053.12" width="34.88" height="29.84" fill="#ecb69f"/>
<rect x="187.78" y="1082.36" width="34.88" height="29.84" fill="#c7d7f0"/>
<rect x="222.06" y="1082.36" width="69.16" height="29.84" fill="#a7c4fd"/>
<rect x="290.62" y="1082.36" width="172" height="29.84" fill="#e8947c"/>
<rect x="462.02" y="1082.36" width="34.88" height="29.84" fill="#a7c4fd"/>
<rect x="496.3" y="1082.36" width="69.16" height="29.84" fill="#ecb69f"/>
<rect x="187.78" y="1111.6" width="69.16" height="29.84" fill="#c7d7f0"/>
<rect x="256.34" y="1111.6" width="34.88" height="29.84" fill="#a7c4fd"/>
<rect x="290.62" y="1111.6" width="172" height="29.84" fill="#e8947c"/>
<rect x="462.02" y="1111.6" width="34.88" height="29.84" fill="#a7c4fd"/>
<rect x="496.3" y="1111.6" width="69.16" height="29.84" fill="#ecb69f"/>
<rect x="222.06" y="1140.84" width="34.88" height="29.84" fill="#c7d7f0"/>
<rect x="256.34" y="1140.84" width="34.88" height="29.84" fill="#a7c4fd"/>
<rect x="290.62" y="1140.84" width="172" height="29.84" fill="#e8947c"/>
<rect x="462.02" y="1140.84" width="34.88" height="29.84" fill="#a7c4fd"/>
<rect x="496.3" y="1140.84" width="69.16" height="29.84" fill="#ecb69f"/>
<rect x="599.14" y="1140.84" width="34.88" height="29.84" fill="#7492f2"/>
<rect x="187.78" y="1170.08" width="69.16" height="29.84" fill="#c7d7f0"/>
<rect x="256.34" y="1170.08" width="34.88" height="29.84" fill="#a7c4fd"/>
<rect x="290.62" y="1170.08" width="103.44" height="29.84" fill="#e8947c"/>
<rect x="393.46" y="1170.08" width="103.44" height="29.84" fill="#a7c4fd"/>
<rect x="496.3" y="1170.08" width="69.16" height="29.84" fill="#ecb69f"/>
<rect x="153.5" y="1199.32" width="103.44" height="29.84" fill="#c7d7f0"/>
<rect x="256.34" y="1199.32" width="206.28" height="29.84" fill="#a7c4fd"/>
<rect x="462.02" y="1199.32" width="34.88" height="29.84" fill="#7492f2"/>
<rect x="496.3" y="1199.32" width="69.16" height="29.84" fill="#ecb69f"/>
<rect x="187.78" y="1228.56" width="137.72" height="29.84" fill="#e9cbba"/>
<rect x="324.9" y="1228.56" width="103.44" height="29.84" fill="#a7c4fd"/>
<rect x="427.74" y="1228.56" width="172" height="29.84" fill="#7492f2"/>
<rect x="187.78" y="1257.8" width="137.72" height="29.84" fill="#e9cbba"/>
<rect x="324.9" y="1257.8" width="137.72" height="29.84" fill="#b81e2e"/>
<rect x="462.02" y="1257.8" width="137.72" height="29.84" fill="#7492f2"/>
<rect x="222.06" y="1287.04" width="103.44" height="29.84" fill="#e9cbba"/>
<rect x="324.9" y="1287.04" width="103.44" height="29.84" fill="#b81e2e"/>
<rect x="427.74" y="1287.04" width="172" height="29.84" fill="#7492f2"/>
<rect x="222.06" y="1316.28" width="103.44" height="29.84" fill="#e9cbba"/>
<rect x="324.9" y="1316.28" width="34.88" height="29.84" fill="#566cde"/>
<rect x="359.18" y="1316.28" width="69.16" height="29.84" fill="#b81e2e"/>
<rect x="427.74" y="1316.28" width="172" height="29.84" fill="#7492f2"/>
<rect x="222.06" y="1345.52" width="69.16" height="29.84" fill="#e9cbba"/>
<rect x="290.62" y="1345.52" width="69.16" height="29.84" fill="#566cde"/>
<rect x="359.18" y="1345.52" width="34.88" height="29.84" fill="#b81e2e"/>
<rect x="393.46" y="1345.52" width="69.16" height="29.84" fill="#7492f2"/>
<rect x="462.02" y="1345.52" width="103.44" height="29.84" fill="#90affc"/>
<rect x="564.86" y="1345.52" width="34.88" height="29.84" fill="#ecb69f"/>
<rect x="222.06" y="1374.76" width="69.16" height="29.84" fill="#90affc"/>
<rect x="290.62" y="1374.76" width="69.16" height="29.84" fill="#566cde"/>
<rect x="359.18" y="1374.76" width="34.88" height="29.84" fill="#b81e2e"/>
<rect x="393.46" y="1374.76" width="34.88" height="29.84" fill="#5e78e6"/>
<rect x="427.74" y="1374.76" width="103.44" height="29.84" fill="#90affc"/>
<rect x="530.58" y="1374.76" width="69.16" height="29.84" fill="#ecb69f"/>
<rect x="222.06" y="1404" width="137.72" height="29.84" fill="#90affc"/>
<rect x="359.18" y="1404" width="69.16" height="29.84" fill="#5e78e6"/>
<rect x="427.74" y="1404" width="69.16" height="29.84" fill="#90affc"/>
<rect x="496.3" y="1404" width="34.88" height="29.84" fill="#e7d1c5"/>
<rect x="530.58" y="1404" width="69.16" height="29.84" fill="#ecb69f"/>
<rect x="187.78" y="1433.24" width="172" height="29.84" fill="#90affc"/>
<rect x="359.18" y="1433.24" width="103.44" height="29.84" fill="#5e78e6"/>
<rect x="462.02" y="1433.24" width="137.72" height="29.84" fill="#e7d1c5"/>
<rect x="187.78" y="1462.48" width="69.16" height="29.84" fill="#e99981"/>
<rect x="256.34" y="1462.48" width="103.44" height="29.84" fill="#90affc"/>
<rect x="359.18" y="1462.48" width="103.44" height="29.84" fill="#5e78e6"/>
<rect x="462.02" y="1462.48" width="137.72" height="29.84" fill="#e7d1c5"/>
<rect x="187.78" y="1491.72" width="137.72" height="29.84" fill="#e99981"/>
<rect x="324.9" y="1491.72" width="103.44" height="29.84" fill="#5e78e6"/>
<rect x="427.74" y="1491.72" width="137.72" height="29.84" fill="#e7d1c5"/>
<rect x="153.5" y="1520.96" width="69.16" height="29.84" fill="#e99981"/>
<rect x="222.06" y="1520.96" width="69.16" height="29.84" fill="#e47e6b"/>
<rect x="290.62" y="1520.96" width="34.88" height="29.84" fill="#e99981"/>
<rect x="324.9" y="1520.96" width="137.72" height="29.84" fill="#5e78e6"/>
<rect x="462.02" y="1520.96" width="103.44" height="29.84" fill="#e7d1c5"/>
<rect x="153.5" y="1550.2" width="69.16" height="29.84" fill="#e99981"/>
<rect x="222.06" y="1550.2" width="69.16" height="29.84" fill="#e47e6b"/>
<rect x="290.62" y="1550.2" width="69.16" height="29.84" fill="#e99981"/>
<rect x="427.74" y="1550.2" width="69.16" height="29.84" fill="#5e78e6"/>
<rect x="153.5" y="1579.44" width="69.16" height="29.84" fill="#e99981"/>
<rect x="222.06" y="1579.44" width="34.88" height="29.84" fill="#e47e6b"/>
<rect x="256.34" y="1579.44" width="69.16" height="29.84" fill="#e99981"/>
<rect x="153.5" y="1608.68" width="137.72" height="29.84" fill="#e99981"/>
<rect x="222.06" y="1637.92" width="34.88" height="29.84" fill="#e99981"/>
<rect x="290.62" y="1667.16" width="34.88" height="29.84" fill="#c6d6f1"/>
<rect x="290.62" y="1696.4" width="34.88" height="29.84" fill="#c6d6f1"/>
<path d="M462.32 994.94H496.6M325.2 1024.18H496.6M256.64 1053.42H290.92M325.2 1053.42H462.32M496.6 1053.42H530.88M188.08 1082.66H393.76M462.32 1082.66H530.88M188.08 1111.9H222.36M256.64 1111.9H565.16M222.36 1141.14H565.16M222.36 1170.38H393.76M462.32 1170.38H565.16M188.08 1199.62H290.92M393.76 1199.62H462.32M496.6 1199.62H565.16M325.2 1228.86H428.04M462.32 1228.86H496.6M188.08 1258.1H325.2M462.32 1258.1H599.44M222.36 1287.34H428.04M462.32 1287.34H599.44M222.36 1316.58H325.2M359.48 1316.58H599.44M222.36 1345.82H290.92M325.2 1345.82H393.76M428.04 1345.82H462.32M290.92 1375.06H393.76M462.32 1375.06H530.88M565.16 1375.06H599.44M222.36 1404.3H290.92M393.76 1404.3H496.6M530.88 1404.3H599.44M222.36 1433.54H428.04M496.6 1433.54H530.88M256.64 1462.78H599.44M188.08 1492.02H256.64M359.48 1492.02H428.04M462.32 1492.02H565.16M188.08 1521.26H222.36M290.92 1521.26H428.04M462.32 1521.26H565.16M153.8 1550.5H325.2M428.04 1550.5H462.32M153.8 1579.74H256.64M290.92 1579.74H325.2M153.8 1608.98H222.36M256.64 1608.98H290.92M222.36 1638.22H256.64M290.92 1696.7H325.2M188.08 1199.62V1228.86M188.08 1521.26V1638.22M222.36 1111.9V1141.14M222.36 1170.38V1287.34M222.36 1433.54V1521.26M222.36 1608.98V1638.22M256.64 1053.42V1111.9M256.64 1228.86V1462.78M256.64 1492.02V1579.74M256.64 1608.98V1638.22M290.92 1024.18V1053.42M290.92 1199.62V1345.82M290.92 1404.3V1521.26M290.92 1579.74V1608.98M325.2 1053.42V1228.86M325.2 1345.82V1492.02M325.2 1550.5V1579.74M359.48 994.94V1316.58M359.48 1492.02V1550.5M393.76 965.7V994.94M393.76 1082.66V1170.38M393.76 1199.62V1345.82M393.76 1404.3V1550.5M428.04 965.7V1228.86M428.04 1258.1V1287.34M428.04 1345.82V1375.06M428.04 1433.54V1492.02M428.04 1521.26V1550.5M462.32 965.7V994.94M462.32 1053.42V1082.66M462.32 1170.38V1199.62M462.32 1228.86V1258.1M462.32 1287.34V1345.82M462.32 1375.06V1433.54M462.32 1492.02V1521.26M462.32 1550.5V1579.74M496.6 1024.18V1053.42M496.6 1228.86V1404.3M496.6 1433.54V1550.5M530.88 1082.66V1375.06M530.88 1433.54V1550.5M565.16 1228.86V1345.82M565.16 1375.06V1492.02" fill="none" stroke="#a5a5a3" stroke-width="1.8" stroke-dasharray="6.2 1.1"/>
<path d="M359.48 965.7H496.6M325.2 994.94H462.32M256.64 1024.18H325.2M496.6 1024.18H530.88M188.08 1053.42H256.64M290.92 1053.42H325.2M462.32 1053.42H496.6M393.76 1082.66H462.32M530.88 1082.66H565.16M222.36 1111.9H256.64M188.08 1141.14H222.36M599.44 1141.14H633.72M188.08 1170.38H222.36M393.76 1170.38H462.32M599.44 1170.38H633.72M153.8 1199.62H188.08M290.92 1199.62H393.76M462.32 1199.62H496.6M153.8 1228.86H325.2M428.04 1228.86H462.32M496.6 1228.86H599.44M325.2 1258.1H462.32M188.08 1287.34H222.36M428.04 1287.34H462.32M325.2 1316.58H359.48M290.92 1345.82H325.2M393.76 1345.82H428.04M462.32 1345.82H599.44M222.36 1375.06H290.92M393.76 1375.06H462.32M530.88 1375.06H565.16M290.92 1404.3H393.76M496.6 1404.3H530.88M188.08 1433.54H222.36M428.04 1433.54H496.6M530.88 1433.54H599.44M188.08 1462.78H256.64M256.64 1492.02H359.48M428.04 1492.02H462.32M565.16 1492.02H599.44M153.8 1521.26H188.08M222.36 1521.26H290.92M428.04 1521.26H462.32M325.2 1550.5H428.04M462.32 1550.5H565.16M256.64 1579.74H290.92M325.2 1579.74H359.48M428.04 1579.74H496.6M222.36 1608.98H256.64M290.92 1608.98H325.2M153.8 1638.22H222.36M256.64 1638.22H290.92M222.36 1667.46H256.64M290.92 1667.46H325.2M290.92 1725.94H325.2M153.8 1199.62V1228.86M153.8 1521.26V1638.22M188.08 1053.42V1141.14M188.08 1170.38V1199.62M188.08 1228.86V1287.34M188.08 1433.54V1521.26M222.36 1053.42V1111.9M222.36 1141.14V1170.38M222.36 1287.34V1433.54M222.36 1521.26V1608.98M222.36 1638.22V1667.46M256.64 1024.18V1053.42M256.64 1111.9V1228.86M256.64 1462.78V1492.02M256.64 1579.74V1608.98M256.64 1638.22V1667.46M290.92 1053.42V1199.62M290.92 1345.82V1404.3M290.92 1521.26V1579.74M290.92 1608.98V1638.22M290.92 1667.46V1725.94M325.2 994.94V1053.42M325.2 1228.86V1345.82M325.2 1492.02V1550.5M325.2 1579.74V1608.98M325.2 1667.46V1725.94M359.48 965.7V994.94M359.48 1316.58V1492.02M359.48 1550.5V1579.74M393.76 994.94V1082.66M393.76 1170.38V1199.62M393.76 1345.82V1404.3M428.04 1228.86V1258.1M428.04 1287.34V1345.82M428.04 1375.06V1433.54M428.04 1492.02V1521.26M428.04 1550.5V1579.74M462.32 994.94V1053.42M462.32 1082.66V1170.38M462.32 1199.62V1228.86M462.32 1258.1V1287.34M462.32 1345.82V1375.06M462.32 1433.54V1492.02M462.32 1521.26V1550.5M496.6 965.7V1024.18M496.6 1053.42V1228.86M496.6 1404.3V1433.54M496.6 1550.5V1579.74M530.88 1024.18V1082.66M530.88 1375.06V1433.54M565.16 1082.66V1228.86M565.16 1345.82V1375.06M565.16 1492.02V1550.5M599.44 1141.14V1170.38M599.44 1228.86V1492.02M633.72 1141.14V1170.38" fill="none" stroke="#1f670e" stroke-width="3.4" stroke-linecap="square"/>
<g font-weight="bold" text-anchor="middle">
<text transform="translate(375.7 1140.8) scale(1 1.045)" font-size="43.6">SU</text>
<text transform="translate(531 1121.8) scale(1 1.045)" font-size="43.6">GW</text>
<text transform="translate(222.9 1210.3) scale(1 1.045)" font-size="43.6">IC</text>
<text transform="translate(359.8 1239.5) scale(1 1.045)" font-size="43.6">GG</text>
<text transform="translate(256.6 1297.2) scale(1 1.045)" font-size="43.6">CN</text>
<text transform="translate(376.2 1314.8) scale(1 1.045)" font-size="43.6">CB</text>
<text transform="translate(512.9 1314.8) scale(1 1.045)" font-size="43.6">GB</text>
<text transform="translate(325 1386.4) scale(1 1.045)" font-size="43.6">DJ</text>
<text transform="translate(479 1402.9) scale(1 1.045)" font-size="43.6">DG</text>
<text transform="translate(564.6 1414.9) scale(1 1.045)" font-size="43.6">US</text>
<text transform="translate(273.1 1452.9) scale(1 1.045)" font-size="43.6">JB</text>
<text transform="translate(393.2 1502.7) scale(1 1.045)" font-size="43.6">GN</text>
<text transform="translate(513.5 1490.6) scale(1 1.045)" font-size="43.6">BS</text>
<text transform="translate(256.1 1576.5) scale(1 1.045)" font-size="43.6">GJ</text>
<text transform="translate(187.6 1605.8) scale(1 1.045)" font-size="43.6">JN</text>
<text transform="translate(307.3 1726.4) scale(1 1.045)" font-size="43.6">JJ</text>
</g>
<text transform="translate(405.7 915) scale(1 1.02)" font-size="43.5" text-anchor="middle" font-weight="bold">National drought (I)</text>
<text transform="translate(122.4 873) scale(1 1.02)" font-size="47.5" text-anchor="middle" font-weight="bold">(b)</text>
</g>
<g id="panel-c">
<rect x="962.28" y="964" width="137.72" height="29.89" fill="#cdd9ec"/>
<rect x="928" y="993.29" width="69.16" height="29.89" fill="#a7c4fd"/>
<rect x="996.56" y="993.29" width="69.16" height="29.89" fill="#c7d7f0"/>
<rect x="1065.12" y="993.29" width="34.88" height="29.89" fill="#cdd9ec"/>
<rect x="859.44" y="1022.58" width="69.16" height="29.89" fill="#c7d7f0"/>
<rect x="928" y="1022.58" width="69.16" height="29.89" fill="#a7c4fd"/>
<rect x="996.56" y="1022.58" width="69.16" height="29.89" fill="#c7d7f0"/>
<rect x="1065.12" y="1022.58" width="69.16" height="29.89" fill="#cdd9ec"/>
<rect x="790.88" y="1051.87" width="34.88" height="29.89" fill="#d4dbe6"/>
<rect x="825.16" y="1051.87" width="69.16" height="29.89" fill="#c7d7f0"/>
<rect x="893.72" y="1051.87" width="103.44" height="29.89" fill="#a7c4fd"/>
<rect x="996.56" y="1051.87" width="103.44" height="29.89" fill="#c7d7f0"/>
<rect x="1099.4" y="1051.87" width="34.88" height="29.89" fill="#cdd9ec"/>
<rect x="790.88" y="1081.16" width="34.88" height="29.89" fill="#d4dbe6"/>
<rect x="825.16" y="1081.16" width="69.16" height="29.89" fill="#c7d7f0"/>
<rect x="893.72" y="1081.16" width="172" height="29.89" fill="#a7c4fd"/>
<rect x="1065.12" y="1081.16" width="34.88" height="29.89" fill="#c7d7f0"/>
<rect x="1099.4" y="1081.16" width="69.16" height="29.89" fill="#cdd9ec"/>
<rect x="790.88" y="1110.45" width="69.16" height="29.89" fill="#d4dbe6"/>
<rect x="859.44" y="1110.45" width="34.88" height="29.89" fill="#c7d7f0"/>
<rect x="893.72" y="1110.45" width="172" height="29.89" fill="#a7c4fd"/>
<rect x="1065.12" y="1110.45" width="34.88" height="29.89" fill="#c7d7f0"/>
<rect x="1099.4" y="1110.45" width="69.16" height="29.89" fill="#cdd9ec"/>
<rect x="825.16" y="1139.74" width="34.88" height="29.89" fill="#d4dbe6"/>
<rect x="859.44" y="1139.74" width="34.88" height="29.89" fill="#c7d7f0"/>
<rect x="893.72" y="1139.74" width="172" height="29.89" fill="#a7c4fd"/>
<rect x="1065.12" y="1139.74" width="34.88" height="29.89" fill="#c7d7f0"/>
<rect x="1099.4" y="1139.74" width="69.16" height="29.89" fill="#cdd9ec"/>
<rect x="1202.24" y="1139.74" width="34.88" height="29.89" fill="#e9cbba"/>
<rect x="790.88" y="1169.03" width="69.16" height="29.89" fill="#d4dbe6"/>
<rect x="859.44" y="1169.03" width="34.88" height="29.89" fill="#c7d7f0"/>
<rect x="893.72" y="1169.03" width="103.44" height="29.89" fill="#a7c4fd"/>
<rect x="996.56" y="1169.03" width="103.44" height="29.89" fill="#c7d7f0"/>
<rect x="1099.4" y="1169.03" width="69.16" height="29.89" fill="#cdd9ec"/>
<rect x="756.6" y="1198.32" width="103.44" height="29.89" fill="#d4dbe6"/>
<rect x="859.44" y="1198.32" width="206.28" height="29.89" fill="#c7d7f0"/>
<rect x="1065.12" y="1198.32" width="34.88" height="29.89" fill="#e9cbba"/>
<rect x="1099.4" y="1198.32" width="69.16" height="29.89" fill="#cdd9ec"/>
<rect x="790.88" y="1227.61" width="137.72" height="29.89" fill="#d4dbe6"/>
<rect x="928" y="1227.61" width="103.44" height="29.89" fill="#c7d7f0"/>
<rect x="1030.84" y="1227.61" width="172" height="29.89" fill="#e9cbba"/>
<rect x="790.88" y="1256.9" width="137.72" height="29.89" fill="#d4dbe6"/>
<rect x="928" y="1256.9" width="137.72" height="29.89" fill="#a7c4fd"/>
<rect x="1065.12" y="1256.9" width="137.72" height="29.89" fill="#e9cbba"/>
<rect x="825.16" y="1286.19" width="103.44" height="29.89" fill="#d4dbe6"/>
<rect x="928" y="1286.19" width="103.44" height="29.89" fill="#a7c4fd"/>
<rect x="1030.84" y="1286.19" width="172" height="29.89" fill="#e9cbba"/>
<rect x="825.16" y="1315.48" width="103.44" height="29.89" fill="#d4dbe6"/>
<rect x="928" y="1315.48" width="34.88" height="29.89" fill="#7492f2"/>
<rect x="962.28" y="1315.48" width="69.16" height="29.89" fill="#a7c4fd"/>
<rect x="1030.84" y="1315.48" width="172" height="29.89" fill="#e9cbba"/>
<rect x="825.16" y="1344.77" width="69.16" height="29.89" fill="#d4dbe6"/>
<rect x="893.72" y="1344.77" width="69.16" height="29.89" fill="#7492f2"/>
<rect x="962.28" y="1344.77" width="34.88" height="29.89" fill="#a7c4fd"/>
<rect x="996.56" y="1344.77" width="69.16" height="29.89" fill="#e9cbba"/>
<rect x="1065.12" y="1344.77" width="103.44" height="29.89" fill="#b7cff9"/>
<rect x="1167.96" y="1344.77" width="34.88" height="29.89" fill="#e7d1c5"/>
<rect x="825.16" y="1374.06" width="69.16" height="29.89" fill="#90affc"/>
<rect x="893.72" y="1374.06" width="69.16" height="29.89" fill="#7492f2"/>
<rect x="962.28" y="1374.06" width="34.88" height="29.89" fill="#a7c4fd"/>
<rect x="996.56" y="1374.06" width="34.88" height="29.89" fill="#c0d4f5"/>
<rect x="1030.84" y="1374.06" width="103.44" height="29.89" fill="#b7cff9"/>
<rect x="1133.68" y="1374.06" width="69.16" height="29.89" fill="#e7d1c5"/>
<rect x="825.16" y="1403.35" width="137.72" height="29.89" fill="#90affc"/>
<rect x="962.28" y="1403.35" width="69.16" height="29.89" fill="#c0d4f5"/>
<rect x="1030.84" y="1403.35" width="69.16" height="29.89" fill="#b7cff9"/>
<rect x="1099.4" y="1403.35" width="34.88" height="29.89" fill="#d4dbe6"/>
<rect x="1133.68" y="1403.35" width="69.16" height="29.89" fill="#e7d1c5"/>
<rect x="790.88" y="1432.64" width="172" height="29.89" fill="#90affc"/>
<rect x="962.28" y="1432.64" width="103.44" height="29.89" fill="#c0d4f5"/>
<rect x="1065.12" y="1432.64" width="137.72" height="29.89" fill="#d4dbe6"/>
<rect x="790.88" y="1461.93" width="69.16" height="29.89" fill="#e99981"/>
<rect x="859.44" y="1461.93" width="103.44" height="29.89" fill="#90affc"/>
<rect x="962.28" y="1461.93" width="103.44" height="29.89" fill="#c0d4f5"/>
<rect x="1065.12" y="1461.93" width="137.72" height="29.89" fill="#d4dbe6"/>
<rect x="790.88" y="1491.22" width="137.72" height="29.89" fill="#e99981"/>
<rect x="928" y="1491.22" width="103.44" height="29.89" fill="#c0d4f5"/>
<rect x="1030.84" y="1491.22" width="137.72" height="29.89" fill="#d4dbe6"/>
<rect x="756.6" y="1520.51" width="69.16" height="29.89" fill="#e99981"/>
<rect x="825.16" y="1520.51" width="69.16" height="29.89" fill="#b81e2e"/>
<rect x="893.72" y="1520.51" width="34.88" height="29.89" fill="#e99981"/>
<rect x="928" y="1520.51" width="137.72" height="29.89" fill="#c0d4f5"/>
<rect x="1065.12" y="1520.51" width="103.44" height="29.89" fill="#d4dbe6"/>
<rect x="756.6" y="1549.8" width="69.16" height="29.89" fill="#e99981"/>
<rect x="825.16" y="1549.8" width="69.16" height="29.89" fill="#b81e2e"/>
<rect x="893.72" y="1549.8" width="69.16" height="29.89" fill="#e99981"/>
<rect x="1030.84" y="1549.8" width="69.16" height="29.89" fill="#c0d4f5"/>
<rect x="756.6" y="1579.09" width="69.16" height="29.89" fill="#e99981"/>
<rect x="825.16" y="1579.09" width="34.88" height="29.89" fill="#b81e2e"/>
<rect x="859.44" y="1579.09" width="69.16" height="29.89" fill="#e99981"/>
<rect x="756.6" y="1608.38" width="137.72" height="29.89" fill="#e99981"/>
<rect x="825.16" y="1637.67" width="34.88" height="29.89" fill="#e99981"/>
<rect x="893.72" y="1666.96" width="34.88" height="29.89" fill="#b6cefa"/>
<rect x="893.72" y="1696.25" width="34.88" height="29.89" fill="#b6cefa"/>
<path d="M1065.42 993.59H1099.7M928.3 1022.88H1099.7M859.74 1052.17H894.02M928.3 1052.17H1065.42M1099.7 1052.17H1133.98M791.18 1081.46H996.86M1065.42 1081.46H1133.98M791.18 1110.75H825.46M859.74 1110.75H1168.26M825.46 1140.04H1168.26M825.46 1169.33H996.86M1065.42 1169.33H1168.26M791.18 1198.62H894.02M996.86 1198.62H1065.42M1099.7 1198.62H1168.26M928.3 1227.91H1031.14M1065.42 1227.91H1099.7M791.18 1257.2H928.3M1065.42 1257.2H1202.54M825.46 1286.49H1031.14M1065.42 1286.49H1202.54M825.46 1315.78H928.3M962.58 1315.78H1202.54M825.46 1345.07H894.02M928.3 1345.07H996.86M1031.14 1345.07H1065.42M894.02 1374.36H996.86M1065.42 1374.36H1133.98M1168.26 1374.36H1202.54M825.46 1403.65H894.02M996.86 1403.65H1099.7M1133.98 1403.65H1202.54M825.46 1432.94H1031.14M1099.7 1432.94H1133.98M859.74 1462.23H1202.54M791.18 1491.52H859.74M962.58 1491.52H1031.14M1065.42 1491.52H1168.26M791.18 1520.81H825.46M894.02 1520.81H1031.14M1065.42 1520.81H1168.26M756.9 1550.1H928.3M1031.14 1550.1H1065.42M756.9 1579.39H859.74M894.02 1579.39H928.3M756.9 1608.68H825.46M859.74 1608.68H894.02M825.46 1637.97H859.74M894.02 1696.55H928.3M791.18 1198.62V1227.91M791.18 1520.81V1637.97M825.46 1110.75V1140.04M825.46 1169.33V1286.49M825.46 1432.94V1520.81M825.46 1608.68V1637.97M859.74 1052.17V1110.75M859.74 1227.91V1462.23M859.74 1491.52V1579.39M859.74 1608.68V1637.97M894.02 1022.88V1052.17M894.02 1198.62V1345.07M894.02 1403.65V1520.81M894.02 1579.39V1608.68M928.3 1052.17V1227.91M928.3 1345.07V1491.52M928.3 1550.1V1579.39M962.58 993.59V1315.78M962.58 1491.52V1550.1M996.86 964.3V993.59M996.86 1081.46V1169.33M996.86 1198.62V1345.07M996.86 1403.65V1550.1M1031.14 964.3V1227.91M1031.14 1257.2V1286.49M1031.14 1345.07V1374.36M1031.14 1432.94V1491.52M1031.14 1520.81V1550.1M1065.42 964.3V993.59M1065.42 1052.17V1081.46M1065.42 1169.33V1198.62M1065.42 1227.91V1257.2M1065.42 1286.49V1345.07M1065.42 1374.36V1432.94M1065.42 1491.52V1520.81M1065.42 1550.1V1579.39M1099.7 1022.88V1052.17M1099.7 1227.91V1403.65M1099.7 1432.94V1550.1M1133.98 1081.46V1374.36M1133.98 1432.94V1550.1M1168.26 1227.91V1345.07M1168.26 1374.36V1491.52" fill="none" stroke="#a5a5a3" stroke-width="1.8" stroke-dasharray="6.2 1.1"/>
<path d="M962.58 964.3H1099.7M928.3 993.59H1065.42M859.74 1022.88H928.3M1099.7 1022.88H1133.98M791.18 1052.17H859.74M894.02 1052.17H928.3M1065.42 1052.17H1099.7M996.86 1081.46H1065.42M1133.98 1081.46H1168.26M825.46 1110.75H859.74M791.18 1140.04H825.46M1202.54 1140.04H1236.82M791.18 1169.33H825.46M996.86 1169.33H1065.42M1202.54 1169.33H1236.82M756.9 1198.62H791.18M894.02 1198.62H996.86M1065.42 1198.62H1099.7M756.9 1227.91H928.3M1031.14 1227.91H1065.42M1099.7 1227.91H1202.54M928.3 1257.2H1065.42M791.18 1286.49H825.46M1031.14 1286.49H1065.42M928.3 1315.78H962.58M894.02 1345.07H928.3M996.86 1345.07H1031.14M1065.42 1345.07H1202.54M825.46 1374.36H894.02M996.86 1374.36H1065.42M1133.98 1374.36H1168.26M894.02 1403.65H996.86M1099.7 1403.65H1133.98M791.18 1432.94H825.46M1031.14 1432.94H1099.7M1133.98 1432.94H1202.54M791.18 1462.23H859.74M859.74 1491.52H962.58M1031.14 1491.52H1065.42M1168.26 1491.52H1202.54M756.9 1520.81H791.18M825.46 1520.81H894.02M1031.14 1520.81H1065.42M928.3 1550.1H1031.14M1065.42 1550.1H1168.26M859.74 1579.39H894.02M928.3 1579.39H962.58M1031.14 1579.39H1099.7M825.46 1608.68H859.74M894.02 1608.68H928.3M756.9 1637.97H825.46M859.74 1637.97H894.02M825.46 1667.26H859.74M894.02 1667.26H928.3M894.02 1725.84H928.3M756.9 1198.62V1227.91M756.9 1520.81V1637.97M791.18 1052.17V1140.04M791.18 1169.33V1198.62M791.18 1227.91V1286.49M791.18 1432.94V1520.81M825.46 1052.17V1110.75M825.46 1140.04V1169.33M825.46 1286.49V1432.94M825.46 1520.81V1608.68M825.46 1637.97V1667.26M859.74 1022.88V1052.17M859.74 1110.75V1227.91M859.74 1462.23V1491.52M859.74 1579.39V1608.68M859.74 1637.97V1667.26M894.02 1052.17V1198.62M894.02 1345.07V1403.65M894.02 1520.81V1579.39M894.02 1608.68V1637.97M894.02 1667.26V1725.84M928.3 993.59V1052.17M928.3 1227.91V1345.07M928.3 1491.52V1550.1M928.3 1579.39V1608.68M928.3 1667.26V1725.84M962.58 964.3V993.59M962.58 1315.78V1491.52M962.58 1550.1V1579.39M996.86 993.59V1081.46M996.86 1169.33V1198.62M996.86 1345.07V1403.65M1031.14 1227.91V1257.2M1031.14 1286.49V1345.07M1031.14 1374.36V1432.94M1031.14 1491.52V1520.81M1031.14 1550.1V1579.39M1065.42 993.59V1052.17M1065.42 1081.46V1169.33M1065.42 1198.62V1227.91M1065.42 1257.2V1286.49M1065.42 1345.07V1374.36M1065.42 1432.94V1491.52M1065.42 1520.81V1550.1M1099.7 964.3V1022.88M1099.7 1052.17V1227.91M1099.7 1403.65V1432.94M1099.7 1550.1V1579.39M1133.98 1022.88V1081.46M1133.98 1374.36V1432.94M1168.26 1081.46V1227.91M1168.26 1345.07V1374.36M1168.26 1491.52V1550.1M1202.54 1140.04V1169.33M1202.54 1227.91V1491.52M1236.82 1140.04V1169.33" fill="none" stroke="#1f670e" stroke-width="3.4" stroke-linecap="square"/>
<g font-weight="bold" text-anchor="middle">
<text transform="translate(978.8 1140.5) scale(1 1.045)" font-size="43.6">SU</text>
<text transform="translate(1134.1 1121.47) scale(1 1.045)" font-size="43.6">GW</text>
<text transform="translate(826 1210.12) scale(1 1.045)" font-size="43.6">IC</text>
<text transform="translate(962.9 1239.37) scale(1 1.045)" font-size="43.6">GG</text>
<text transform="translate(859.7 1297.17) scale(1 1.045)" font-size="43.6">CN</text>
<text transform="translate(979.3 1314.8) scale(1 1.045)" font-size="43.6">CB</text>
<text transform="translate(1116 1314.8) scale(1 1.045)" font-size="43.6">GB</text>
<text transform="translate(928.1 1386.52) scale(1 1.045)" font-size="43.6">DJ</text>
<text transform="translate(1082.1 1403.05) scale(1 1.045)" font-size="43.6">DG</text>
<text transform="translate(1167.7 1415.07) scale(1 1.045)" font-size="43.6">US</text>
<text transform="translate(876.2 1453.13) scale(1 1.045)" font-size="43.6">JB</text>
<text transform="translate(996.3 1503.02) scale(1 1.045)" font-size="43.6">GN</text>
<text transform="translate(1116.6 1490.9) scale(1 1.045)" font-size="43.6">BS</text>
<text transform="translate(859.2 1576.94) scale(1 1.045)" font-size="43.6">GJ</text>
<text transform="translate(790.7 1606.29) scale(1 1.045)" font-size="43.6">JN</text>
<text transform="translate(910.4 1727.1) scale(1 1.045)" font-size="43.6">JJ</text>
</g>
<text transform="translate(1016.5 915.8) scale(1 1.02)" font-size="43.2" text-anchor="middle" font-weight="bold">Local drought (II)</text>
<text transform="translate(733 873.8) scale(1 1.02)" font-size="47.5" text-anchor="middle" font-weight="bold">(c)</text>
</g>
<g id="legend-bc">
<rect x="1286.5" y="1032.4" width="26.5" height="596.1" fill="url(#gnv)"/>
<path d="M1286.5 1032.9L1299.75 1002L1313 1032.9Z" fill="#424dc6"/>
<path d="M1286.5 1628L1299.75 1659.8L1313 1628Z" fill="#b81e2e"/>
<path d="M1286.5 1032.4L1299.75 1002L1313 1032.4V1628.5L1299.75 1659.8L1286.5 1628.5Z" fill="none" stroke="#111" stroke-width="1.7"/>
<path d="M1313 1032.4H1319M1313 1181.43H1319M1313 1330.45H1319M1313 1479.47H1319M1313 1628.5H1319" stroke="#111" stroke-width="1.3" fill="none"/>
<text transform="translate(1322 1046) scale(1 1.05)" font-size="36">80</text>
<text transform="translate(1322 1195.03) scale(1 1.05)" font-size="36">40</text>
<text transform="translate(1322 1344.05) scale(1 1.05)" font-size="36">0</text>
<text transform="translate(1322 1493.07) scale(1 1.05)" font-size="36">40</text>
<text transform="translate(1322 1642.1) scale(1 1.05)" font-size="36">80</text>
<text transform="translate(1373 1158) rotate(90) scale(1 1.05)" font-size="36.8" text-anchor="middle">Positive</text>
<text transform="translate(1372.8 1495.6) rotate(90) scale(1 1.05)" font-size="36.4" text-anchor="middle">Negative</text>
</g>
</svg>
</body>
</html>
